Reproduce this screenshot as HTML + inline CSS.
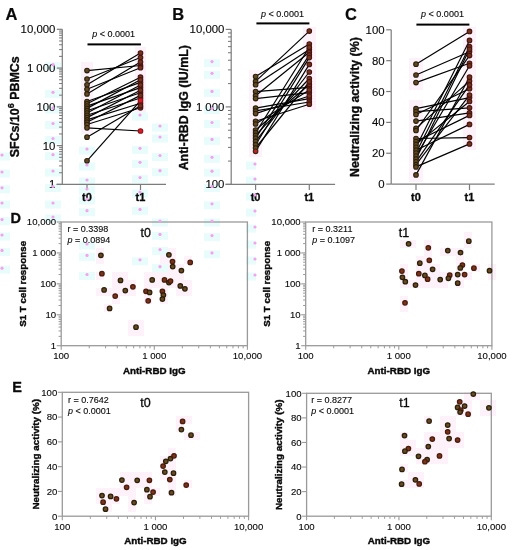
<!DOCTYPE html>
<html><head><meta charset="utf-8"><style>
html,body{margin:0;padding:0;background:#fff;width:512px;height:550px;overflow:hidden}
svg{display:block;font-family:"Liberation Sans",sans-serif;filter:blur(0.2px)}
</style></head><body>
<svg width="512" height="550" viewBox="0 0 512 550">
<rect x="0" y="0" width="512" height="550" fill="#fff"/>
<rect x="81.0" y="62.0" width="12.0" height="72.0" fill="#fdf2fa"/>
<rect x="135.0" y="47.0" width="11.0" height="66.0" fill="#fdf2fa"/>
<rect x="249.0" y="70.0" width="13.0" height="87.0" fill="#fdf2fa"/>
<rect x="303.0" y="27.0" width="13.0" height="83.0" fill="#fdf2fa"/>
<rect x="409.0" y="58.0" width="14.0" height="32.0" fill="#fdf2fa"/>
<rect x="409.0" y="100.0" width="14.0" height="82.0" fill="#fdf2fa"/>
<rect x="463.0" y="27.0" width="13.0" height="123.0" fill="#fdf2fa"/>
<rect x="104" y="288" width="8" height="8" fill="#fdf2fa"/>
<rect x="128" y="280" width="8" height="8" fill="#fdf2fa"/>
<rect x="120" y="288" width="8" height="8" fill="#fdf2fa"/>
<rect x="144" y="280" width="8" height="8" fill="#fdf2fa"/>
<rect x="160" y="256" width="8" height="8" fill="#fdf2fa"/>
<rect x="128" y="328" width="8" height="8" fill="#fdf2fa"/>
<rect x="168" y="248" width="8" height="8" fill="#fdf2fa"/>
<rect x="160" y="280" width="8" height="8" fill="#fdf2fa"/>
<rect x="168" y="272" width="8" height="8" fill="#fdf2fa"/>
<rect x="96" y="248" width="8" height="8" fill="#fdf2fa"/>
<rect x="176" y="280" width="8" height="8" fill="#fdf2fa"/>
<rect x="96" y="272" width="8" height="8" fill="#fdf2fa"/>
<rect x="112" y="296" width="8" height="8" fill="#fdf2fa"/>
<rect x="112" y="272" width="8" height="8" fill="#fdf2fa"/>
<rect x="104" y="304" width="8" height="8" fill="#fdf2fa"/>
<rect x="120" y="280" width="8" height="8" fill="#fdf2fa"/>
<rect x="128" y="320" width="8" height="8" fill="#fdf2fa"/>
<rect x="144" y="296" width="8" height="8" fill="#fdf2fa"/>
<rect x="144" y="272" width="8" height="8" fill="#fdf2fa"/>
<rect x="168" y="264" width="8" height="8" fill="#fdf2fa"/>
<rect x="160" y="248" width="8" height="8" fill="#fdf2fa"/>
<rect x="160" y="296" width="8" height="8" fill="#fdf2fa"/>
<rect x="160" y="272" width="8" height="8" fill="#fdf2fa"/>
<rect x="96" y="288" width="8" height="8" fill="#fdf2fa"/>
<rect x="176" y="272" width="8" height="8" fill="#fdf2fa"/>
<rect x="184" y="288" width="8" height="8" fill="#fdf2fa"/>
<rect x="112" y="288" width="8" height="8" fill="#fdf2fa"/>
<rect x="152" y="280" width="8" height="8" fill="#fdf2fa"/>
<rect x="136" y="328" width="8" height="8" fill="#fdf2fa"/>
<rect x="128" y="288" width="8" height="8" fill="#fdf2fa"/>
<rect x="120" y="272" width="8" height="8" fill="#fdf2fa"/>
<rect x="144" y="288" width="8" height="8" fill="#fdf2fa"/>
<rect x="168" y="280" width="8" height="8" fill="#fdf2fa"/>
<rect x="168" y="256" width="8" height="8" fill="#fdf2fa"/>
<rect x="184" y="280" width="8" height="8" fill="#fdf2fa"/>
<rect x="176" y="264" width="8" height="8" fill="#fdf2fa"/>
<rect x="160" y="288" width="8" height="8" fill="#fdf2fa"/>
<rect x="96" y="256" width="8" height="8" fill="#fdf2fa"/>
<rect x="184" y="256" width="8" height="8" fill="#fdf2fa"/>
<rect x="112" y="280" width="8" height="8" fill="#fdf2fa"/>
<rect x="176" y="288" width="8" height="8" fill="#fdf2fa"/>
<rect x="136" y="320" width="8" height="8" fill="#fdf2fa"/>
<rect x="152" y="272" width="8" height="8" fill="#fdf2fa"/>
<rect x="456" y="264" width="8" height="8" fill="#fdf2fa"/>
<rect x="424" y="256" width="8" height="8" fill="#fdf2fa"/>
<rect x="424" y="280" width="8" height="8" fill="#fdf2fa"/>
<rect x="432" y="272" width="8" height="8" fill="#fdf2fa"/>
<rect x="448" y="248" width="8" height="8" fill="#fdf2fa"/>
<rect x="440" y="280" width="8" height="8" fill="#fdf2fa"/>
<rect x="464" y="272" width="8" height="8" fill="#fdf2fa"/>
<rect x="448" y="272" width="8" height="8" fill="#fdf2fa"/>
<rect x="472" y="264" width="8" height="8" fill="#fdf2fa"/>
<rect x="400" y="240" width="8" height="8" fill="#fdf2fa"/>
<rect x="400" y="264" width="8" height="8" fill="#fdf2fa"/>
<rect x="488" y="264" width="8" height="8" fill="#fdf2fa"/>
<rect x="416" y="264" width="8" height="8" fill="#fdf2fa"/>
<rect x="456" y="256" width="8" height="8" fill="#fdf2fa"/>
<rect x="456" y="280" width="8" height="8" fill="#fdf2fa"/>
<rect x="424" y="272" width="8" height="8" fill="#fdf2fa"/>
<rect x="432" y="264" width="8" height="8" fill="#fdf2fa"/>
<rect x="424" y="248" width="8" height="8" fill="#fdf2fa"/>
<rect x="440" y="272" width="8" height="8" fill="#fdf2fa"/>
<rect x="440" y="248" width="8" height="8" fill="#fdf2fa"/>
<rect x="464" y="240" width="8" height="8" fill="#fdf2fa"/>
<rect x="400" y="280" width="8" height="8" fill="#fdf2fa"/>
<rect x="416" y="256" width="8" height="8" fill="#fdf2fa"/>
<rect x="408" y="240" width="8" height="8" fill="#fdf2fa"/>
<rect x="400" y="304" width="8" height="8" fill="#fdf2fa"/>
<rect x="416" y="280" width="8" height="8" fill="#fdf2fa"/>
<rect x="456" y="248" width="8" height="8" fill="#fdf2fa"/>
<rect x="456" y="272" width="8" height="8" fill="#fdf2fa"/>
<rect x="424" y="240" width="8" height="8" fill="#fdf2fa"/>
<rect x="432" y="280" width="8" height="8" fill="#fdf2fa"/>
<rect x="424" y="264" width="8" height="8" fill="#fdf2fa"/>
<rect x="464" y="232" width="8" height="8" fill="#fdf2fa"/>
<rect x="488" y="272" width="8" height="8" fill="#fdf2fa"/>
<rect x="400" y="296" width="8" height="8" fill="#fdf2fa"/>
<rect x="400" y="272" width="8" height="8" fill="#fdf2fa"/>
<rect x="408" y="280" width="8" height="8" fill="#fdf2fa"/>
<rect x="416" y="272" width="8" height="8" fill="#fdf2fa"/>
<rect x="96" y="496" width="8" height="8" fill="#fdf2fa"/>
<rect x="112" y="496" width="8" height="8" fill="#fdf2fa"/>
<rect x="152" y="488" width="8" height="8" fill="#fdf2fa"/>
<rect x="192" y="432" width="8" height="8" fill="#fdf2fa"/>
<rect x="104" y="504" width="8" height="8" fill="#fdf2fa"/>
<rect x="128" y="472" width="8" height="8" fill="#fdf2fa"/>
<rect x="128" y="496" width="8" height="8" fill="#fdf2fa"/>
<rect x="144" y="472" width="8" height="8" fill="#fdf2fa"/>
<rect x="120" y="480" width="8" height="8" fill="#fdf2fa"/>
<rect x="176" y="424" width="8" height="8" fill="#fdf2fa"/>
<rect x="144" y="496" width="8" height="8" fill="#fdf2fa"/>
<rect x="168" y="488" width="8" height="8" fill="#fdf2fa"/>
<rect x="160" y="472" width="8" height="8" fill="#fdf2fa"/>
<rect x="184" y="416" width="8" height="8" fill="#fdf2fa"/>
<rect x="168" y="464" width="8" height="8" fill="#fdf2fa"/>
<rect x="96" y="488" width="8" height="8" fill="#fdf2fa"/>
<rect x="112" y="488" width="8" height="8" fill="#fdf2fa"/>
<rect x="136" y="480" width="8" height="8" fill="#fdf2fa"/>
<rect x="104" y="496" width="8" height="8" fill="#fdf2fa"/>
<rect x="120" y="472" width="8" height="8" fill="#fdf2fa"/>
<rect x="128" y="488" width="8" height="8" fill="#fdf2fa"/>
<rect x="144" y="488" width="8" height="8" fill="#fdf2fa"/>
<rect x="160" y="464" width="8" height="8" fill="#fdf2fa"/>
<rect x="168" y="456" width="8" height="8" fill="#fdf2fa"/>
<rect x="184" y="432" width="8" height="8" fill="#fdf2fa"/>
<rect x="176" y="416" width="8" height="8" fill="#fdf2fa"/>
<rect x="168" y="480" width="8" height="8" fill="#fdf2fa"/>
<rect x="184" y="480" width="8" height="8" fill="#fdf2fa"/>
<rect x="136" y="472" width="8" height="8" fill="#fdf2fa"/>
<rect x="104" y="488" width="8" height="8" fill="#fdf2fa"/>
<rect x="120" y="488" width="8" height="8" fill="#fdf2fa"/>
<rect x="128" y="480" width="8" height="8" fill="#fdf2fa"/>
<rect x="128" y="504" width="8" height="8" fill="#fdf2fa"/>
<rect x="144" y="480" width="8" height="8" fill="#fdf2fa"/>
<rect x="168" y="472" width="8" height="8" fill="#fdf2fa"/>
<rect x="160" y="456" width="8" height="8" fill="#fdf2fa"/>
<rect x="168" y="448" width="8" height="8" fill="#fdf2fa"/>
<rect x="464" y="400" width="8" height="8" fill="#fdf2fa"/>
<rect x="440" y="456" width="8" height="8" fill="#fdf2fa"/>
<rect x="480" y="400" width="8" height="8" fill="#fdf2fa"/>
<rect x="400" y="440" width="8" height="8" fill="#fdf2fa"/>
<rect x="408" y="448" width="8" height="8" fill="#fdf2fa"/>
<rect x="400" y="464" width="8" height="8" fill="#fdf2fa"/>
<rect x="456" y="408" width="8" height="8" fill="#fdf2fa"/>
<rect x="408" y="472" width="8" height="8" fill="#fdf2fa"/>
<rect x="456" y="432" width="8" height="8" fill="#fdf2fa"/>
<rect x="424" y="448" width="8" height="8" fill="#fdf2fa"/>
<rect x="440" y="424" width="8" height="8" fill="#fdf2fa"/>
<rect x="432" y="440" width="8" height="8" fill="#fdf2fa"/>
<rect x="448" y="416" width="8" height="8" fill="#fdf2fa"/>
<rect x="464" y="392" width="8" height="8" fill="#fdf2fa"/>
<rect x="440" y="448" width="8" height="8" fill="#fdf2fa"/>
<rect x="448" y="440" width="8" height="8" fill="#fdf2fa"/>
<rect x="488" y="408" width="8" height="8" fill="#fdf2fa"/>
<rect x="400" y="432" width="8" height="8" fill="#fdf2fa"/>
<rect x="408" y="440" width="8" height="8" fill="#fdf2fa"/>
<rect x="400" y="480" width="8" height="8" fill="#fdf2fa"/>
<rect x="416" y="456" width="8" height="8" fill="#fdf2fa"/>
<rect x="424" y="456" width="8" height="8" fill="#fdf2fa"/>
<rect x="416" y="480" width="8" height="8" fill="#fdf2fa"/>
<rect x="456" y="400" width="8" height="8" fill="#fdf2fa"/>
<rect x="432" y="432" width="8" height="8" fill="#fdf2fa"/>
<rect x="424" y="416" width="8" height="8" fill="#fdf2fa"/>
<rect x="432" y="456" width="8" height="8" fill="#fdf2fa"/>
<rect x="448" y="432" width="8" height="8" fill="#fdf2fa"/>
<rect x="440" y="416" width="8" height="8" fill="#fdf2fa"/>
<rect x="464" y="408" width="8" height="8" fill="#fdf2fa"/>
<rect x="424" y="440" width="8" height="8" fill="#fdf2fa"/>
<rect x="440" y="440" width="8" height="8" fill="#fdf2fa"/>
<rect x="480" y="408" width="8" height="8" fill="#fdf2fa"/>
<rect x="488" y="400" width="8" height="8" fill="#fdf2fa"/>
<rect x="400" y="448" width="8" height="8" fill="#fdf2fa"/>
<rect x="416" y="448" width="8" height="8" fill="#fdf2fa"/>
<rect x="408" y="480" width="8" height="8" fill="#fdf2fa"/>
<rect x="416" y="472" width="8" height="8" fill="#fdf2fa"/>
<rect x="456" y="440" width="8" height="8" fill="#fdf2fa"/>
<rect x="432" y="448" width="8" height="8" fill="#fdf2fa"/>
<rect x="424" y="432" width="8" height="8" fill="#fdf2fa"/>
<rect x="472" y="392" width="8" height="8" fill="#fdf2fa"/>
<rect x="440" y="432" width="8" height="8" fill="#fdf2fa"/>
<rect x="448" y="424" width="8" height="8" fill="#fdf2fa"/>
<rect x="45" y="62.2" width="16" height="8" fill="#e8fcfc"/>
<rect x="45" y="89.8" width="16" height="8" fill="#e8fcfc"/>
<rect x="45" y="105.5" width="16" height="8" fill="#e8fcfc"/>
<rect x="45" y="121.0" width="16" height="8" fill="#e8fcfc"/>
<rect x="45" y="136.0" width="16" height="8" fill="#e8fcfc"/>
<rect x="45" y="152.2" width="16" height="8" fill="#e8fcfc"/>
<rect x="45" y="168.5" width="16" height="8" fill="#e8fcfc"/>
<rect x="45" y="184.0" width="16" height="8" fill="#e8fcfc"/>
<rect x="45" y="200.5" width="16" height="8" fill="#e8fcfc"/>
<rect x="45" y="214.5" width="16" height="8" fill="#e8fcfc"/>
<rect x="79" y="146.5" width="16" height="8" fill="#e8fcfc"/>
<rect x="79" y="162.5" width="16" height="8" fill="#e8fcfc"/>
<rect x="79" y="177.5" width="16" height="8" fill="#e8fcfc"/>
<rect x="79" y="186.5" width="16" height="8" fill="#e8fcfc"/>
<rect x="79" y="196.5" width="16" height="8" fill="#e8fcfc"/>
<rect x="79" y="208.2" width="16" height="8" fill="#e8fcfc"/>
<rect x="79" y="241.5" width="16" height="8" fill="#e8fcfc"/>
<rect x="79" y="252.9" width="16" height="8" fill="#e8fcfc"/>
<rect x="79" y="272.0" width="16" height="8" fill="#e8fcfc"/>
<rect x="-6" y="152.5" width="16" height="8" fill="#e8fcfc"/>
<rect x="-6" y="169.5" width="16" height="8" fill="#e8fcfc"/>
<rect x="-6" y="185.3" width="16" height="8" fill="#e8fcfc"/>
<rect x="-6" y="200.5" width="16" height="8" fill="#e8fcfc"/>
<rect x="-6" y="217.1" width="16" height="8" fill="#e8fcfc"/>
<rect x="-6" y="232.5" width="16" height="8" fill="#e8fcfc"/>
<rect x="-6" y="247.9" width="16" height="8" fill="#e8fcfc"/>
<rect x="-6" y="265.7" width="16" height="8" fill="#e8fcfc"/>
<rect x="132" y="112.5" width="16" height="8" fill="#e8fcfc"/>
<rect x="132" y="145.8" width="16" height="8" fill="#e8fcfc"/>
<rect x="132" y="159.8" width="16" height="8" fill="#e8fcfc"/>
<rect x="132" y="175.1" width="16" height="8" fill="#e8fcfc"/>
<rect x="132" y="189.5" width="16" height="8" fill="#e8fcfc"/>
<rect x="132" y="206.9" width="16" height="8" fill="#e8fcfc"/>
<rect x="132" y="257.3" width="16" height="8" fill="#e8fcfc"/>
<rect x="152" y="123.5" width="16" height="8" fill="#e8fcfc"/>
<rect x="152" y="134.5" width="16" height="8" fill="#e8fcfc"/>
<rect x="152" y="153.0" width="16" height="8" fill="#e8fcfc"/>
<rect x="152" y="168.2" width="16" height="8" fill="#e8fcfc"/>
<rect x="152" y="218.5" width="16" height="8" fill="#e8fcfc"/>
<rect x="152" y="231.9" width="16" height="8" fill="#e8fcfc"/>
<rect x="152" y="247.1" width="16" height="8" fill="#e8fcfc"/>
<rect x="152" y="264.2" width="16" height="8" fill="#e8fcfc"/>
<rect x="204" y="59.1" width="16" height="8" fill="#e8fcfc"/>
<rect x="204" y="70.8" width="16" height="8" fill="#e8fcfc"/>
<rect x="204" y="88.9" width="16" height="8" fill="#e8fcfc"/>
<rect x="204" y="106.0" width="16" height="8" fill="#e8fcfc"/>
<rect x="204" y="120.0" width="16" height="8" fill="#e8fcfc"/>
<rect x="204" y="136.9" width="16" height="8" fill="#e8fcfc"/>
<rect x="204" y="154.8" width="16" height="8" fill="#e8fcfc"/>
<rect x="204" y="168.7" width="16" height="8" fill="#e8fcfc"/>
<rect x="204" y="184.0" width="16" height="8" fill="#e8fcfc"/>
<rect x="204" y="201.3" width="16" height="8" fill="#e8fcfc"/>
<rect x="204" y="218.5" width="16" height="8" fill="#e8fcfc"/>
<rect x="204" y="233.1" width="16" height="8" fill="#e8fcfc"/>
<rect x="204" y="250.4" width="16" height="8" fill="#e8fcfc"/>
<rect x="246" y="161.5" width="10" height="8" fill="#e8fcfc"/>
<rect x="246" y="176.5" width="10" height="8" fill="#e8fcfc"/>
<rect x="246" y="192.5" width="10" height="8" fill="#e8fcfc"/>
<rect x="246" y="208.5" width="10" height="8" fill="#e8fcfc"/>
<rect x="246" y="224.5" width="10" height="8" fill="#e8fcfc"/>
<rect x="246" y="240.5" width="10" height="8" fill="#e8fcfc"/>
<rect x="246" y="256.5" width="10" height="8" fill="#e8fcfc"/>
<rect x="246" y="272.5" width="10" height="8" fill="#e8fcfc"/>
<line x1="62.30" y1="29.30" x2="62.30" y2="184.40" stroke="#7c7c7c" stroke-width="1.2"/>
<line x1="56.80" y1="184.40" x2="62.30" y2="184.40" stroke="#7c7c7c" stroke-width="1.2"/>
<line x1="59.10" y1="172.73" x2="62.30" y2="172.73" stroke="#7c7c7c" stroke-width="1.08"/>
<line x1="59.10" y1="165.90" x2="62.30" y2="165.90" stroke="#7c7c7c" stroke-width="1.08"/>
<line x1="59.10" y1="161.06" x2="62.30" y2="161.06" stroke="#7c7c7c" stroke-width="1.08"/>
<line x1="59.10" y1="157.30" x2="62.30" y2="157.30" stroke="#7c7c7c" stroke-width="1.08"/>
<line x1="59.10" y1="154.23" x2="62.30" y2="154.23" stroke="#7c7c7c" stroke-width="1.08"/>
<line x1="59.10" y1="151.63" x2="62.30" y2="151.63" stroke="#7c7c7c" stroke-width="1.08"/>
<line x1="59.10" y1="149.38" x2="62.30" y2="149.38" stroke="#7c7c7c" stroke-width="1.08"/>
<line x1="59.10" y1="147.40" x2="62.30" y2="147.40" stroke="#7c7c7c" stroke-width="1.08"/>
<line x1="56.80" y1="145.62" x2="62.30" y2="145.62" stroke="#7c7c7c" stroke-width="1.2"/>
<line x1="59.10" y1="133.95" x2="62.30" y2="133.95" stroke="#7c7c7c" stroke-width="1.08"/>
<line x1="59.10" y1="127.12" x2="62.30" y2="127.12" stroke="#7c7c7c" stroke-width="1.08"/>
<line x1="59.10" y1="122.28" x2="62.30" y2="122.28" stroke="#7c7c7c" stroke-width="1.08"/>
<line x1="59.10" y1="118.52" x2="62.30" y2="118.52" stroke="#7c7c7c" stroke-width="1.08"/>
<line x1="59.10" y1="115.45" x2="62.30" y2="115.45" stroke="#7c7c7c" stroke-width="1.08"/>
<line x1="59.10" y1="112.86" x2="62.30" y2="112.86" stroke="#7c7c7c" stroke-width="1.08"/>
<line x1="59.10" y1="110.61" x2="62.30" y2="110.61" stroke="#7c7c7c" stroke-width="1.08"/>
<line x1="59.10" y1="108.62" x2="62.30" y2="108.62" stroke="#7c7c7c" stroke-width="1.08"/>
<line x1="56.80" y1="106.85" x2="62.30" y2="106.85" stroke="#7c7c7c" stroke-width="1.2"/>
<line x1="59.10" y1="95.18" x2="62.30" y2="95.18" stroke="#7c7c7c" stroke-width="1.08"/>
<line x1="59.10" y1="88.35" x2="62.30" y2="88.35" stroke="#7c7c7c" stroke-width="1.08"/>
<line x1="59.10" y1="83.51" x2="62.30" y2="83.51" stroke="#7c7c7c" stroke-width="1.08"/>
<line x1="59.10" y1="79.75" x2="62.30" y2="79.75" stroke="#7c7c7c" stroke-width="1.08"/>
<line x1="59.10" y1="76.68" x2="62.30" y2="76.68" stroke="#7c7c7c" stroke-width="1.08"/>
<line x1="59.10" y1="74.08" x2="62.30" y2="74.08" stroke="#7c7c7c" stroke-width="1.08"/>
<line x1="59.10" y1="71.83" x2="62.30" y2="71.83" stroke="#7c7c7c" stroke-width="1.08"/>
<line x1="59.10" y1="69.85" x2="62.30" y2="69.85" stroke="#7c7c7c" stroke-width="1.08"/>
<line x1="56.80" y1="68.08" x2="62.30" y2="68.08" stroke="#7c7c7c" stroke-width="1.2"/>
<line x1="59.10" y1="56.40" x2="62.30" y2="56.40" stroke="#7c7c7c" stroke-width="1.08"/>
<line x1="59.10" y1="49.57" x2="62.30" y2="49.57" stroke="#7c7c7c" stroke-width="1.08"/>
<line x1="59.10" y1="44.73" x2="62.30" y2="44.73" stroke="#7c7c7c" stroke-width="1.08"/>
<line x1="59.10" y1="40.97" x2="62.30" y2="40.97" stroke="#7c7c7c" stroke-width="1.08"/>
<line x1="59.10" y1="37.90" x2="62.30" y2="37.90" stroke="#7c7c7c" stroke-width="1.08"/>
<line x1="59.10" y1="35.31" x2="62.30" y2="35.31" stroke="#7c7c7c" stroke-width="1.08"/>
<line x1="59.10" y1="33.06" x2="62.30" y2="33.06" stroke="#7c7c7c" stroke-width="1.08"/>
<line x1="59.10" y1="31.07" x2="62.30" y2="31.07" stroke="#7c7c7c" stroke-width="1.08"/>
<line x1="56.80" y1="29.30" x2="62.30" y2="29.30" stroke="#7c7c7c" stroke-width="1.2"/>
<line x1="56.50" y1="184.40" x2="166.00" y2="184.40" stroke="#7c7c7c" stroke-width="1.2"/>
<line x1="87.00" y1="184.40" x2="87.00" y2="190.00" stroke="#7c7c7c" stroke-width="1.2"/>
<line x1="140.50" y1="184.40" x2="140.50" y2="190.00" stroke="#7c7c7c" stroke-width="1.2"/>
<text x="55.40" y="188.40" font-size="11.4" text-anchor="end" font-weight="normal" fill="#0a0a0a" stroke="#0a0a0a" stroke-width="0.12" >1</text>
<text x="55.40" y="149.62" font-size="11.4" text-anchor="end" font-weight="normal" fill="#0a0a0a" stroke="#0a0a0a" stroke-width="0.12" >10</text>
<text x="55.40" y="110.85" font-size="11.4" text-anchor="end" font-weight="normal" fill="#0a0a0a" stroke="#0a0a0a" stroke-width="0.12" >100</text>
<text x="55.40" y="72.08" font-size="11.4" text-anchor="end" font-weight="normal" fill="#0a0a0a" stroke="#0a0a0a" stroke-width="0.12" >1 000</text>
<text x="55.40" y="33.30" font-size="11.4" text-anchor="end" font-weight="normal" fill="#0a0a0a" stroke="#0a0a0a" stroke-width="0.12" >10,000</text>
<text x="87.00" y="201.00" font-size="11" text-anchor="middle" font-weight="bold" fill="#0a0a0a" stroke="#0a0a0a" stroke-width="0.3" >t0</text>
<text x="140.50" y="201.00" font-size="11" text-anchor="middle" font-weight="bold" fill="#0a0a0a" stroke="#0a0a0a" stroke-width="0.3" >t1</text>
<text x="5.60" y="20.00" font-size="16.5" text-anchor="start" font-weight="bold" fill="#0a0a0a" stroke="#0a0a0a" stroke-width="0.2" >A</text>
<text x="113.70" y="37.10" font-size="9" text-anchor="middle" font-weight="normal" fill="#0a0a0a" stroke="#0a0a0a" stroke-width="0.12" ><tspan font-style="italic">p</tspan> &lt; 0.0001</text>
<rect x="87.50" y="43.40" width="53.40" height="2.00" fill="#000"/>
<text transform="translate(18.80,106.80) rotate(-90)" x="0" y="0" font-size="12.4" text-anchor="middle" font-weight="bold" fill="#0a0a0a" stroke="#0a0a0a" stroke-width="0.35">SFCs/10<tspan dy="-5" font-size="9">6</tspan><tspan dy="5"> PBMCs</tspan></text>
<line x1="87.00" y1="70.60" x2="140.50" y2="65.50" stroke="#000" stroke-width="1.2"/>
<line x1="87.00" y1="79.00" x2="140.50" y2="57.50" stroke="#000" stroke-width="1.2"/>
<line x1="87.00" y1="84.80" x2="140.50" y2="53.00" stroke="#000" stroke-width="1.2"/>
<line x1="87.00" y1="89.30" x2="140.50" y2="67.70" stroke="#000" stroke-width="1.2"/>
<line x1="87.00" y1="93.90" x2="140.50" y2="62.00" stroke="#000" stroke-width="1.2"/>
<line x1="87.00" y1="101.50" x2="140.50" y2="82.40" stroke="#000" stroke-width="1.2"/>
<line x1="87.00" y1="103.80" x2="140.50" y2="77.20" stroke="#000" stroke-width="1.2"/>
<line x1="87.00" y1="106.10" x2="140.50" y2="87.60" stroke="#000" stroke-width="1.2"/>
<line x1="87.00" y1="108.40" x2="140.50" y2="79.80" stroke="#000" stroke-width="1.2"/>
<line x1="87.00" y1="110.70" x2="140.50" y2="92.80" stroke="#000" stroke-width="1.2"/>
<line x1="87.00" y1="113.00" x2="140.50" y2="85.00" stroke="#000" stroke-width="1.2"/>
<line x1="87.00" y1="115.30" x2="140.50" y2="98.00" stroke="#000" stroke-width="1.2"/>
<line x1="87.00" y1="117.60" x2="140.50" y2="90.20" stroke="#000" stroke-width="1.2"/>
<line x1="87.00" y1="119.90" x2="140.50" y2="103.20" stroke="#000" stroke-width="1.2"/>
<line x1="87.00" y1="122.20" x2="140.50" y2="95.40" stroke="#000" stroke-width="1.2"/>
<line x1="87.00" y1="124.50" x2="140.50" y2="107.80" stroke="#000" stroke-width="1.2"/>
<line x1="87.00" y1="127.80" x2="140.50" y2="131.00" stroke="#000" stroke-width="1.2"/>
<line x1="87.00" y1="137.20" x2="140.50" y2="105.80" stroke="#000" stroke-width="1.2"/>
<line x1="87.00" y1="160.80" x2="140.50" y2="100.60" stroke="#000" stroke-width="1.2"/>
<circle cx="87.00" cy="70.60" r="2.3" fill="#654822" stroke="#2a200c" stroke-width="1.1"/>
<circle cx="87.00" cy="79.00" r="2.3" fill="#654822" stroke="#2a200c" stroke-width="1.1"/>
<circle cx="87.00" cy="84.80" r="2.3" fill="#654822" stroke="#2a200c" stroke-width="1.1"/>
<circle cx="87.00" cy="89.30" r="2.3" fill="#654822" stroke="#2a200c" stroke-width="1.1"/>
<circle cx="87.00" cy="93.90" r="2.3" fill="#654822" stroke="#2a200c" stroke-width="1.1"/>
<circle cx="87.00" cy="101.50" r="2.3" fill="#654822" stroke="#2a200c" stroke-width="1.1"/>
<circle cx="87.00" cy="103.80" r="2.3" fill="#654822" stroke="#2a200c" stroke-width="1.1"/>
<circle cx="87.00" cy="106.10" r="2.3" fill="#654822" stroke="#2a200c" stroke-width="1.1"/>
<circle cx="87.00" cy="108.40" r="2.3" fill="#654822" stroke="#2a200c" stroke-width="1.1"/>
<circle cx="87.00" cy="110.70" r="2.3" fill="#654822" stroke="#2a200c" stroke-width="1.1"/>
<circle cx="87.00" cy="113.00" r="2.3" fill="#654822" stroke="#2a200c" stroke-width="1.1"/>
<circle cx="87.00" cy="115.30" r="2.3" fill="#654822" stroke="#2a200c" stroke-width="1.1"/>
<circle cx="87.00" cy="117.60" r="2.3" fill="#654822" stroke="#2a200c" stroke-width="1.1"/>
<circle cx="87.00" cy="119.90" r="2.3" fill="#654822" stroke="#2a200c" stroke-width="1.1"/>
<circle cx="87.00" cy="122.20" r="2.3" fill="#654822" stroke="#2a200c" stroke-width="1.1"/>
<circle cx="87.00" cy="124.50" r="2.3" fill="#654822" stroke="#2a200c" stroke-width="1.1"/>
<circle cx="87.00" cy="127.80" r="2.3" fill="#654822" stroke="#2a200c" stroke-width="1.1"/>
<circle cx="87.00" cy="137.20" r="2.3" fill="#654822" stroke="#2a200c" stroke-width="1.1"/>
<circle cx="87.00" cy="160.80" r="2.3" fill="#654822" stroke="#2a200c" stroke-width="1.1"/>
<circle cx="140.50" cy="65.50" r="2.3" fill="#70341a" stroke="#481210" stroke-width="1.1"/>
<circle cx="140.50" cy="57.50" r="2.3" fill="#70341a" stroke="#481210" stroke-width="1.1"/>
<circle cx="140.50" cy="53.00" r="2.3" fill="#70341a" stroke="#481210" stroke-width="1.1"/>
<circle cx="140.50" cy="67.70" r="2.3" fill="#70341a" stroke="#481210" stroke-width="1.1"/>
<circle cx="140.50" cy="62.00" r="2.3" fill="#70341a" stroke="#481210" stroke-width="1.1"/>
<circle cx="140.50" cy="82.40" r="2.3" fill="#70341a" stroke="#481210" stroke-width="1.1"/>
<circle cx="140.50" cy="77.20" r="2.3" fill="#70341a" stroke="#481210" stroke-width="1.1"/>
<circle cx="140.50" cy="87.60" r="2.3" fill="#70341a" stroke="#481210" stroke-width="1.1"/>
<circle cx="140.50" cy="79.80" r="2.3" fill="#70341a" stroke="#481210" stroke-width="1.1"/>
<circle cx="140.50" cy="92.80" r="2.3" fill="#70341a" stroke="#481210" stroke-width="1.1"/>
<circle cx="140.50" cy="85.00" r="2.3" fill="#70341a" stroke="#481210" stroke-width="1.1"/>
<circle cx="140.50" cy="98.00" r="2.3" fill="#70341a" stroke="#481210" stroke-width="1.1"/>
<circle cx="140.50" cy="90.20" r="2.3" fill="#70341a" stroke="#481210" stroke-width="1.1"/>
<circle cx="140.50" cy="103.20" r="2.3" fill="#70341a" stroke="#481210" stroke-width="1.1"/>
<circle cx="140.50" cy="95.40" r="2.3" fill="#70341a" stroke="#481210" stroke-width="1.1"/>
<circle cx="140.50" cy="107.80" r="2.3" fill="#70341a" stroke="#481210" stroke-width="1.1"/>
<circle cx="140.50" cy="131.00" r="2.3" fill="#e0182a" stroke="#8a1418" stroke-width="1.1"/>
<circle cx="140.50" cy="105.80" r="2.3" fill="#70341a" stroke="#481210" stroke-width="1.1"/>
<circle cx="140.50" cy="100.60" r="2.3" fill="#e0182a" stroke="#8a1418" stroke-width="1.1"/>
<line x1="231.20" y1="29.40" x2="231.20" y2="184.40" stroke="#7c7c7c" stroke-width="1.2"/>
<line x1="225.70" y1="184.40" x2="231.20" y2="184.40" stroke="#7c7c7c" stroke-width="1.2"/>
<line x1="228.00" y1="161.07" x2="231.20" y2="161.07" stroke="#7c7c7c" stroke-width="1.08"/>
<line x1="228.00" y1="147.42" x2="231.20" y2="147.42" stroke="#7c7c7c" stroke-width="1.08"/>
<line x1="228.00" y1="137.74" x2="231.20" y2="137.74" stroke="#7c7c7c" stroke-width="1.08"/>
<line x1="228.00" y1="130.23" x2="231.20" y2="130.23" stroke="#7c7c7c" stroke-width="1.08"/>
<line x1="228.00" y1="124.09" x2="231.20" y2="124.09" stroke="#7c7c7c" stroke-width="1.08"/>
<line x1="228.00" y1="118.90" x2="231.20" y2="118.90" stroke="#7c7c7c" stroke-width="1.08"/>
<line x1="228.00" y1="114.41" x2="231.20" y2="114.41" stroke="#7c7c7c" stroke-width="1.08"/>
<line x1="228.00" y1="110.45" x2="231.20" y2="110.45" stroke="#7c7c7c" stroke-width="1.08"/>
<line x1="225.70" y1="106.90" x2="231.20" y2="106.90" stroke="#7c7c7c" stroke-width="1.2"/>
<line x1="228.00" y1="83.57" x2="231.20" y2="83.57" stroke="#7c7c7c" stroke-width="1.08"/>
<line x1="228.00" y1="69.92" x2="231.20" y2="69.92" stroke="#7c7c7c" stroke-width="1.08"/>
<line x1="228.00" y1="60.24" x2="231.20" y2="60.24" stroke="#7c7c7c" stroke-width="1.08"/>
<line x1="228.00" y1="52.73" x2="231.20" y2="52.73" stroke="#7c7c7c" stroke-width="1.08"/>
<line x1="228.00" y1="46.59" x2="231.20" y2="46.59" stroke="#7c7c7c" stroke-width="1.08"/>
<line x1="228.00" y1="41.40" x2="231.20" y2="41.40" stroke="#7c7c7c" stroke-width="1.08"/>
<line x1="228.00" y1="36.91" x2="231.20" y2="36.91" stroke="#7c7c7c" stroke-width="1.08"/>
<line x1="228.00" y1="32.95" x2="231.20" y2="32.95" stroke="#7c7c7c" stroke-width="1.08"/>
<line x1="225.70" y1="29.40" x2="231.20" y2="29.40" stroke="#7c7c7c" stroke-width="1.2"/>
<line x1="225.50" y1="184.40" x2="335.10" y2="184.40" stroke="#7c7c7c" stroke-width="1.2"/>
<line x1="255.60" y1="184.40" x2="255.60" y2="190.00" stroke="#7c7c7c" stroke-width="1.2"/>
<line x1="309.30" y1="184.40" x2="309.30" y2="190.00" stroke="#7c7c7c" stroke-width="1.2"/>
<text x="224.40" y="188.40" font-size="11.4" text-anchor="end" font-weight="normal" fill="#0a0a0a" stroke="#0a0a0a" stroke-width="0.12" >100</text>
<text x="224.40" y="110.90" font-size="11.4" text-anchor="end" font-weight="normal" fill="#0a0a0a" stroke="#0a0a0a" stroke-width="0.12" >1 000</text>
<text x="224.40" y="33.40" font-size="11.4" text-anchor="end" font-weight="normal" fill="#0a0a0a" stroke="#0a0a0a" stroke-width="0.12" >10,000</text>
<text x="255.60" y="201.00" font-size="11" text-anchor="middle" font-weight="bold" fill="#0a0a0a" stroke="#0a0a0a" stroke-width="0.3" >t0</text>
<text x="309.30" y="201.00" font-size="11" text-anchor="middle" font-weight="bold" fill="#0a0a0a" stroke="#0a0a0a" stroke-width="0.3" >t1</text>
<text x="172.30" y="20.00" font-size="16.5" text-anchor="start" font-weight="bold" fill="#0a0a0a" stroke="#0a0a0a" stroke-width="0.2" >B</text>
<text x="282.50" y="17.30" font-size="9" text-anchor="middle" font-weight="normal" fill="#0a0a0a" stroke="#0a0a0a" stroke-width="0.12" ><tspan font-style="italic">p</tspan> &lt; 0.0001</text>
<rect x="256.40" y="22.40" width="53.00" height="2.00" fill="#000"/>
<text transform="translate(187.60,107.70) rotate(-90)" x="0" y="0" font-size="12.4" text-anchor="middle" font-weight="bold" fill="#0a0a0a" stroke="#0a0a0a" stroke-width="0.35">Anti-RBD IgG (IU/mL)</text>
<line x1="255.60" y1="76.50" x2="309.30" y2="44.00" stroke="#000" stroke-width="1.2"/>
<line x1="255.60" y1="81.40" x2="309.30" y2="31.10" stroke="#000" stroke-width="1.2"/>
<line x1="255.60" y1="84.70" x2="309.30" y2="49.40" stroke="#000" stroke-width="1.2"/>
<line x1="255.60" y1="91.60" x2="309.30" y2="87.30" stroke="#000" stroke-width="1.2"/>
<line x1="255.60" y1="95.70" x2="309.30" y2="52.20" stroke="#000" stroke-width="1.2"/>
<line x1="255.60" y1="98.60" x2="309.30" y2="92.70" stroke="#000" stroke-width="1.2"/>
<line x1="255.60" y1="108.20" x2="309.30" y2="98.70" stroke="#000" stroke-width="1.2"/>
<line x1="255.60" y1="110.90" x2="309.30" y2="102.00" stroke="#000" stroke-width="1.2"/>
<line x1="255.60" y1="113.60" x2="309.30" y2="96.00" stroke="#000" stroke-width="1.2"/>
<line x1="255.60" y1="121.30" x2="309.30" y2="104.20" stroke="#000" stroke-width="1.2"/>
<line x1="255.60" y1="124.00" x2="309.30" y2="90.00" stroke="#000" stroke-width="1.2"/>
<line x1="255.60" y1="130.00" x2="309.30" y2="84.50" stroke="#000" stroke-width="1.2"/>
<line x1="255.60" y1="132.70" x2="309.30" y2="47.30" stroke="#000" stroke-width="1.2"/>
<line x1="255.60" y1="135.40" x2="309.30" y2="78.50" stroke="#000" stroke-width="1.2"/>
<line x1="255.60" y1="138.20" x2="309.30" y2="54.90" stroke="#000" stroke-width="1.2"/>
<line x1="255.60" y1="141.40" x2="309.30" y2="72.00" stroke="#000" stroke-width="1.2"/>
<line x1="255.60" y1="144.70" x2="309.30" y2="57.60" stroke="#000" stroke-width="1.2"/>
<line x1="255.60" y1="148.00" x2="309.30" y2="81.80" stroke="#000" stroke-width="1.2"/>
<line x1="255.60" y1="151.30" x2="309.30" y2="64.40" stroke="#000" stroke-width="1.2"/>
<circle cx="255.60" cy="76.50" r="2.3" fill="#654822" stroke="#2a200c" stroke-width="1.1"/>
<circle cx="255.60" cy="81.40" r="2.3" fill="#654822" stroke="#2a200c" stroke-width="1.1"/>
<circle cx="255.60" cy="84.70" r="2.3" fill="#654822" stroke="#2a200c" stroke-width="1.1"/>
<circle cx="255.60" cy="91.60" r="2.3" fill="#654822" stroke="#2a200c" stroke-width="1.1"/>
<circle cx="255.60" cy="95.70" r="2.3" fill="#654822" stroke="#2a200c" stroke-width="1.1"/>
<circle cx="255.60" cy="98.60" r="2.3" fill="#654822" stroke="#2a200c" stroke-width="1.1"/>
<circle cx="255.60" cy="108.20" r="2.3" fill="#654822" stroke="#2a200c" stroke-width="1.1"/>
<circle cx="255.60" cy="110.90" r="2.3" fill="#654822" stroke="#2a200c" stroke-width="1.1"/>
<circle cx="255.60" cy="113.60" r="2.3" fill="#654822" stroke="#2a200c" stroke-width="1.1"/>
<circle cx="255.60" cy="121.30" r="2.3" fill="#654822" stroke="#2a200c" stroke-width="1.1"/>
<circle cx="255.60" cy="124.00" r="2.3" fill="#654822" stroke="#2a200c" stroke-width="1.1"/>
<circle cx="255.60" cy="130.00" r="2.3" fill="#654822" stroke="#2a200c" stroke-width="1.1"/>
<circle cx="255.60" cy="132.70" r="2.3" fill="#654822" stroke="#2a200c" stroke-width="1.1"/>
<circle cx="255.60" cy="135.40" r="2.3" fill="#654822" stroke="#2a200c" stroke-width="1.1"/>
<circle cx="255.60" cy="138.20" r="2.3" fill="#654822" stroke="#2a200c" stroke-width="1.1"/>
<circle cx="255.60" cy="141.40" r="2.3" fill="#654822" stroke="#2a200c" stroke-width="1.1"/>
<circle cx="255.60" cy="144.70" r="2.3" fill="#654822" stroke="#2a200c" stroke-width="1.1"/>
<circle cx="255.60" cy="148.00" r="2.3" fill="#654822" stroke="#2a200c" stroke-width="1.1"/>
<circle cx="255.60" cy="151.30" r="2.3" fill="#c8202a" stroke="#3a2a10" stroke-width="1.1"/>
<circle cx="309.30" cy="44.00" r="2.3" fill="#70341a" stroke="#481210" stroke-width="1.1"/>
<circle cx="309.30" cy="31.10" r="2.3" fill="#70341a" stroke="#481210" stroke-width="1.1"/>
<circle cx="309.30" cy="49.40" r="2.3" fill="#70341a" stroke="#481210" stroke-width="1.1"/>
<circle cx="309.30" cy="87.30" r="2.3" fill="#70341a" stroke="#481210" stroke-width="1.1"/>
<circle cx="309.30" cy="52.20" r="2.3" fill="#70341a" stroke="#481210" stroke-width="1.1"/>
<circle cx="309.30" cy="92.70" r="2.3" fill="#70341a" stroke="#481210" stroke-width="1.1"/>
<circle cx="309.30" cy="98.70" r="2.3" fill="#70341a" stroke="#481210" stroke-width="1.1"/>
<circle cx="309.30" cy="102.00" r="2.3" fill="#70341a" stroke="#481210" stroke-width="1.1"/>
<circle cx="309.30" cy="96.00" r="2.3" fill="#70341a" stroke="#481210" stroke-width="1.1"/>
<circle cx="309.30" cy="104.20" r="2.3" fill="#70341a" stroke="#481210" stroke-width="1.1"/>
<circle cx="309.30" cy="90.00" r="2.3" fill="#70341a" stroke="#481210" stroke-width="1.1"/>
<circle cx="309.30" cy="84.50" r="2.3" fill="#70341a" stroke="#481210" stroke-width="1.1"/>
<circle cx="309.30" cy="47.30" r="2.3" fill="#70341a" stroke="#481210" stroke-width="1.1"/>
<circle cx="309.30" cy="78.50" r="2.3" fill="#70341a" stroke="#481210" stroke-width="1.1"/>
<circle cx="309.30" cy="54.90" r="2.3" fill="#70341a" stroke="#481210" stroke-width="1.1"/>
<circle cx="309.30" cy="72.00" r="2.3" fill="#70341a" stroke="#481210" stroke-width="1.1"/>
<circle cx="309.30" cy="57.60" r="2.3" fill="#70341a" stroke="#481210" stroke-width="1.1"/>
<circle cx="309.30" cy="81.80" r="2.3" fill="#70341a" stroke="#481210" stroke-width="1.1"/>
<circle cx="309.30" cy="64.40" r="2.3" fill="#70341a" stroke="#481210" stroke-width="1.1"/>
<line x1="391.20" y1="29.80" x2="391.20" y2="184.10" stroke="#7c7c7c" stroke-width="1.2"/>
<line x1="386.20" y1="184.10" x2="391.20" y2="184.10" stroke="#7c7c7c" stroke-width="1.2"/>
<text x="384.60" y="188.10" font-size="11.4" text-anchor="end" font-weight="normal" fill="#0a0a0a" stroke="#0a0a0a" stroke-width="0.12" >0</text>
<line x1="386.20" y1="153.24" x2="391.20" y2="153.24" stroke="#7c7c7c" stroke-width="1.2"/>
<text x="384.60" y="157.24" font-size="11.4" text-anchor="end" font-weight="normal" fill="#0a0a0a" stroke="#0a0a0a" stroke-width="0.12" >20</text>
<line x1="386.20" y1="122.38" x2="391.20" y2="122.38" stroke="#7c7c7c" stroke-width="1.2"/>
<text x="384.60" y="126.38" font-size="11.4" text-anchor="end" font-weight="normal" fill="#0a0a0a" stroke="#0a0a0a" stroke-width="0.12" >40</text>
<line x1="386.20" y1="91.52" x2="391.20" y2="91.52" stroke="#7c7c7c" stroke-width="1.2"/>
<text x="384.60" y="95.52" font-size="11.4" text-anchor="end" font-weight="normal" fill="#0a0a0a" stroke="#0a0a0a" stroke-width="0.12" >60</text>
<line x1="386.20" y1="60.66" x2="391.20" y2="60.66" stroke="#7c7c7c" stroke-width="1.2"/>
<text x="384.60" y="64.66" font-size="11.4" text-anchor="end" font-weight="normal" fill="#0a0a0a" stroke="#0a0a0a" stroke-width="0.12" >80</text>
<line x1="386.20" y1="29.80" x2="391.20" y2="29.80" stroke="#7c7c7c" stroke-width="1.2"/>
<text x="384.60" y="33.80" font-size="11.4" text-anchor="end" font-weight="normal" fill="#0a0a0a" stroke="#0a0a0a" stroke-width="0.12" >100</text>
<line x1="391.20" y1="184.10" x2="494.70" y2="184.10" stroke="#7c7c7c" stroke-width="1.2"/>
<line x1="416.00" y1="184.10" x2="416.00" y2="190.00" stroke="#7c7c7c" stroke-width="1.2"/>
<line x1="469.50" y1="184.10" x2="469.50" y2="190.00" stroke="#7c7c7c" stroke-width="1.2"/>
<text x="416.00" y="201.00" font-size="11" text-anchor="middle" font-weight="bold" fill="#0a0a0a" stroke="#0a0a0a" stroke-width="0.3" >t0</text>
<text x="469.50" y="201.00" font-size="11" text-anchor="middle" font-weight="bold" fill="#0a0a0a" stroke="#0a0a0a" stroke-width="0.3" >t1</text>
<text x="345.00" y="20.30" font-size="16.5" text-anchor="start" font-weight="bold" fill="#0a0a0a" stroke="#0a0a0a" stroke-width="0.2" >C</text>
<text x="442.50" y="17.30" font-size="9" text-anchor="middle" font-weight="normal" fill="#0a0a0a" stroke="#0a0a0a" stroke-width="0.12" ><tspan font-style="italic">p</tspan> &lt; 0.0001</text>
<rect x="416.40" y="23.60" width="53.00" height="2.00" fill="#000"/>
<text transform="translate(358.60,107.00) rotate(-90)" x="0" y="0" font-size="12.4" text-anchor="middle" font-weight="bold" fill="#0a0a0a" stroke="#0a0a0a" stroke-width="0.35">Neutralizing activity (%)</text>
<line x1="416.00" y1="64.20" x2="469.50" y2="31.40" stroke="#000" stroke-width="1.2"/>
<line x1="416.00" y1="75.00" x2="469.50" y2="51.80" stroke="#000" stroke-width="1.2"/>
<line x1="416.00" y1="82.60" x2="469.50" y2="63.30" stroke="#000" stroke-width="1.2"/>
<line x1="416.00" y1="108.70" x2="469.50" y2="97.60" stroke="#000" stroke-width="1.2"/>
<line x1="416.00" y1="111.60" x2="469.50" y2="107.80" stroke="#000" stroke-width="1.2"/>
<line x1="416.00" y1="114.50" x2="469.50" y2="88.70" stroke="#000" stroke-width="1.2"/>
<line x1="416.00" y1="121.10" x2="469.50" y2="112.90" stroke="#000" stroke-width="1.2"/>
<line x1="416.00" y1="128.40" x2="469.50" y2="81.10" stroke="#000" stroke-width="1.2"/>
<line x1="416.00" y1="130.50" x2="469.50" y2="55.60" stroke="#000" stroke-width="1.2"/>
<line x1="416.00" y1="138.50" x2="469.50" y2="137.60" stroke="#000" stroke-width="1.2"/>
<line x1="416.00" y1="141.50" x2="469.50" y2="115.40" stroke="#000" stroke-width="1.2"/>
<line x1="416.00" y1="144.40" x2="469.50" y2="101.50" stroke="#000" stroke-width="1.2"/>
<line x1="416.00" y1="147.30" x2="469.50" y2="40.40" stroke="#000" stroke-width="1.2"/>
<line x1="416.00" y1="150.20" x2="469.50" y2="124.40" stroke="#000" stroke-width="1.2"/>
<line x1="416.00" y1="153.10" x2="469.50" y2="46.70" stroke="#000" stroke-width="1.2"/>
<line x1="416.00" y1="156.00" x2="469.50" y2="65.80" stroke="#000" stroke-width="1.2"/>
<line x1="416.00" y1="158.90" x2="469.50" y2="49.30" stroke="#000" stroke-width="1.2"/>
<line x1="416.00" y1="161.80" x2="469.50" y2="84.90" stroke="#000" stroke-width="1.2"/>
<line x1="416.00" y1="164.70" x2="469.50" y2="95.10" stroke="#000" stroke-width="1.2"/>
<line x1="416.00" y1="166.90" x2="469.50" y2="143.90" stroke="#000" stroke-width="1.2"/>
<line x1="416.00" y1="174.90" x2="469.50" y2="77.20" stroke="#000" stroke-width="1.2"/>
<circle cx="416.00" cy="64.20" r="2.3" fill="#654822" stroke="#2a200c" stroke-width="1.1"/>
<circle cx="416.00" cy="75.00" r="2.3" fill="#654822" stroke="#2a200c" stroke-width="1.1"/>
<circle cx="416.00" cy="82.60" r="2.3" fill="#654822" stroke="#2a200c" stroke-width="1.1"/>
<circle cx="416.00" cy="108.70" r="2.3" fill="#654822" stroke="#2a200c" stroke-width="1.1"/>
<circle cx="416.00" cy="111.60" r="2.3" fill="#654822" stroke="#2a200c" stroke-width="1.1"/>
<circle cx="416.00" cy="114.50" r="2.3" fill="#654822" stroke="#2a200c" stroke-width="1.1"/>
<circle cx="416.00" cy="121.10" r="2.3" fill="#654822" stroke="#2a200c" stroke-width="1.1"/>
<circle cx="416.00" cy="128.40" r="2.3" fill="#654822" stroke="#2a200c" stroke-width="1.1"/>
<circle cx="416.00" cy="130.50" r="2.3" fill="#654822" stroke="#2a200c" stroke-width="1.1"/>
<circle cx="416.00" cy="138.50" r="2.3" fill="#654822" stroke="#2a200c" stroke-width="1.1"/>
<circle cx="416.00" cy="141.50" r="2.3" fill="#654822" stroke="#2a200c" stroke-width="1.1"/>
<circle cx="416.00" cy="144.40" r="2.3" fill="#654822" stroke="#2a200c" stroke-width="1.1"/>
<circle cx="416.00" cy="147.30" r="2.3" fill="#654822" stroke="#2a200c" stroke-width="1.1"/>
<circle cx="416.00" cy="150.20" r="2.3" fill="#654822" stroke="#2a200c" stroke-width="1.1"/>
<circle cx="416.00" cy="153.10" r="2.3" fill="#654822" stroke="#2a200c" stroke-width="1.1"/>
<circle cx="416.00" cy="156.00" r="2.3" fill="#654822" stroke="#2a200c" stroke-width="1.1"/>
<circle cx="416.00" cy="158.90" r="2.3" fill="#654822" stroke="#2a200c" stroke-width="1.1"/>
<circle cx="416.00" cy="161.80" r="2.3" fill="#654822" stroke="#2a200c" stroke-width="1.1"/>
<circle cx="416.00" cy="164.70" r="2.3" fill="#654822" stroke="#2a200c" stroke-width="1.1"/>
<circle cx="416.00" cy="166.90" r="2.3" fill="#654822" stroke="#2a200c" stroke-width="1.1"/>
<circle cx="416.00" cy="174.90" r="2.3" fill="#654822" stroke="#2a200c" stroke-width="1.1"/>
<circle cx="469.50" cy="31.40" r="2.3" fill="#70341a" stroke="#481210" stroke-width="1.1"/>
<circle cx="469.50" cy="51.80" r="2.3" fill="#70341a" stroke="#481210" stroke-width="1.1"/>
<circle cx="469.50" cy="63.30" r="2.3" fill="#70341a" stroke="#481210" stroke-width="1.1"/>
<circle cx="469.50" cy="97.60" r="2.3" fill="#70341a" stroke="#481210" stroke-width="1.1"/>
<circle cx="469.50" cy="107.80" r="2.3" fill="#70341a" stroke="#481210" stroke-width="1.1"/>
<circle cx="469.50" cy="88.70" r="2.3" fill="#70341a" stroke="#481210" stroke-width="1.1"/>
<circle cx="469.50" cy="112.90" r="2.3" fill="#70341a" stroke="#481210" stroke-width="1.1"/>
<circle cx="469.50" cy="81.10" r="2.3" fill="#70341a" stroke="#481210" stroke-width="1.1"/>
<circle cx="469.50" cy="55.60" r="2.3" fill="#70341a" stroke="#481210" stroke-width="1.1"/>
<circle cx="469.50" cy="137.60" r="2.3" fill="#70341a" stroke="#481210" stroke-width="1.1"/>
<circle cx="469.50" cy="115.40" r="2.3" fill="#70341a" stroke="#481210" stroke-width="1.1"/>
<circle cx="469.50" cy="101.50" r="2.3" fill="#70341a" stroke="#481210" stroke-width="1.1"/>
<circle cx="469.50" cy="40.40" r="2.3" fill="#70341a" stroke="#481210" stroke-width="1.1"/>
<circle cx="469.50" cy="124.40" r="2.3" fill="#70341a" stroke="#481210" stroke-width="1.1"/>
<circle cx="469.50" cy="46.70" r="2.3" fill="#70341a" stroke="#481210" stroke-width="1.1"/>
<circle cx="469.50" cy="65.80" r="2.3" fill="#70341a" stroke="#481210" stroke-width="1.1"/>
<circle cx="469.50" cy="49.30" r="2.3" fill="#70341a" stroke="#481210" stroke-width="1.1"/>
<circle cx="469.50" cy="84.90" r="2.3" fill="#70341a" stroke="#481210" stroke-width="1.1"/>
<circle cx="469.50" cy="95.10" r="2.3" fill="#70341a" stroke="#481210" stroke-width="1.1"/>
<circle cx="469.50" cy="143.90" r="2.3" fill="#70341a" stroke="#481210" stroke-width="1.1"/>
<circle cx="469.50" cy="77.20" r="2.3" fill="#70341a" stroke="#481210" stroke-width="1.1"/>
<rect x="61.20" y="222.00" width="186.20" height="123.70" fill="none" stroke="#9a9a9a" stroke-width="1.3"/>
<line x1="61.20" y1="345.70" x2="61.20" y2="349.70" stroke="#9a9a9a" stroke-width="1.1"/>
<line x1="89.23" y1="345.70" x2="89.23" y2="348.30" stroke="#9a9a9a" stroke-width="1.0"/>
<line x1="105.62" y1="345.70" x2="105.62" y2="348.30" stroke="#9a9a9a" stroke-width="1.0"/>
<line x1="117.25" y1="345.70" x2="117.25" y2="348.30" stroke="#9a9a9a" stroke-width="1.0"/>
<line x1="126.27" y1="345.70" x2="126.27" y2="348.30" stroke="#9a9a9a" stroke-width="1.0"/>
<line x1="133.65" y1="345.70" x2="133.65" y2="348.30" stroke="#9a9a9a" stroke-width="1.0"/>
<line x1="139.88" y1="345.70" x2="139.88" y2="348.30" stroke="#9a9a9a" stroke-width="1.0"/>
<line x1="145.28" y1="345.70" x2="145.28" y2="348.30" stroke="#9a9a9a" stroke-width="1.0"/>
<line x1="150.04" y1="345.70" x2="150.04" y2="348.30" stroke="#9a9a9a" stroke-width="1.0"/>
<line x1="154.30" y1="345.70" x2="154.30" y2="349.70" stroke="#9a9a9a" stroke-width="1.1"/>
<line x1="182.33" y1="345.70" x2="182.33" y2="348.30" stroke="#9a9a9a" stroke-width="1.0"/>
<line x1="198.72" y1="345.70" x2="198.72" y2="348.30" stroke="#9a9a9a" stroke-width="1.0"/>
<line x1="210.35" y1="345.70" x2="210.35" y2="348.30" stroke="#9a9a9a" stroke-width="1.0"/>
<line x1="219.37" y1="345.70" x2="219.37" y2="348.30" stroke="#9a9a9a" stroke-width="1.0"/>
<line x1="226.75" y1="345.70" x2="226.75" y2="348.30" stroke="#9a9a9a" stroke-width="1.0"/>
<line x1="232.98" y1="345.70" x2="232.98" y2="348.30" stroke="#9a9a9a" stroke-width="1.0"/>
<line x1="238.38" y1="345.70" x2="238.38" y2="348.30" stroke="#9a9a9a" stroke-width="1.0"/>
<line x1="243.14" y1="345.70" x2="243.14" y2="348.30" stroke="#9a9a9a" stroke-width="1.0"/>
<line x1="247.40" y1="345.70" x2="247.40" y2="349.70" stroke="#9a9a9a" stroke-width="1.1"/>
<text x="61.20" y="359.10" font-size="9.6" text-anchor="middle" font-weight="normal" fill="#0a0a0a" stroke="#0a0a0a" stroke-width="0.12" >100</text>
<text x="154.30" y="359.10" font-size="9.6" text-anchor="middle" font-weight="normal" fill="#0a0a0a" stroke="#0a0a0a" stroke-width="0.12" >1 000</text>
<text x="247.40" y="359.10" font-size="9.6" text-anchor="middle" font-weight="normal" fill="#0a0a0a" stroke="#0a0a0a" stroke-width="0.12" >10,000</text>
<text x="154.30" y="373.90" font-size="9.8" text-anchor="middle" font-weight="bold" fill="#0a0a0a" stroke="#0a0a0a" stroke-width="0.4" >Anti-RBD IgG</text>
<line x1="56.70" y1="345.70" x2="61.20" y2="345.70" stroke="#9a9a9a" stroke-width="1.1"/>
<line x1="58.60" y1="336.39" x2="61.20" y2="336.39" stroke="#9a9a9a" stroke-width="1.0"/>
<line x1="58.60" y1="330.95" x2="61.20" y2="330.95" stroke="#9a9a9a" stroke-width="1.0"/>
<line x1="58.60" y1="327.08" x2="61.20" y2="327.08" stroke="#9a9a9a" stroke-width="1.0"/>
<line x1="58.60" y1="324.08" x2="61.20" y2="324.08" stroke="#9a9a9a" stroke-width="1.0"/>
<line x1="58.60" y1="321.64" x2="61.20" y2="321.64" stroke="#9a9a9a" stroke-width="1.0"/>
<line x1="58.60" y1="319.57" x2="61.20" y2="319.57" stroke="#9a9a9a" stroke-width="1.0"/>
<line x1="58.60" y1="317.77" x2="61.20" y2="317.77" stroke="#9a9a9a" stroke-width="1.0"/>
<line x1="58.60" y1="316.19" x2="61.20" y2="316.19" stroke="#9a9a9a" stroke-width="1.0"/>
<line x1="56.70" y1="314.77" x2="61.20" y2="314.77" stroke="#9a9a9a" stroke-width="1.1"/>
<line x1="58.60" y1="305.47" x2="61.20" y2="305.47" stroke="#9a9a9a" stroke-width="1.0"/>
<line x1="58.60" y1="300.02" x2="61.20" y2="300.02" stroke="#9a9a9a" stroke-width="1.0"/>
<line x1="58.60" y1="296.16" x2="61.20" y2="296.16" stroke="#9a9a9a" stroke-width="1.0"/>
<line x1="58.60" y1="293.16" x2="61.20" y2="293.16" stroke="#9a9a9a" stroke-width="1.0"/>
<line x1="58.60" y1="290.71" x2="61.20" y2="290.71" stroke="#9a9a9a" stroke-width="1.0"/>
<line x1="58.60" y1="288.64" x2="61.20" y2="288.64" stroke="#9a9a9a" stroke-width="1.0"/>
<line x1="58.60" y1="286.85" x2="61.20" y2="286.85" stroke="#9a9a9a" stroke-width="1.0"/>
<line x1="58.60" y1="285.27" x2="61.20" y2="285.27" stroke="#9a9a9a" stroke-width="1.0"/>
<line x1="56.70" y1="283.85" x2="61.20" y2="283.85" stroke="#9a9a9a" stroke-width="1.1"/>
<line x1="58.60" y1="274.54" x2="61.20" y2="274.54" stroke="#9a9a9a" stroke-width="1.0"/>
<line x1="58.60" y1="269.10" x2="61.20" y2="269.10" stroke="#9a9a9a" stroke-width="1.0"/>
<line x1="58.60" y1="265.23" x2="61.20" y2="265.23" stroke="#9a9a9a" stroke-width="1.0"/>
<line x1="58.60" y1="262.23" x2="61.20" y2="262.23" stroke="#9a9a9a" stroke-width="1.0"/>
<line x1="58.60" y1="259.79" x2="61.20" y2="259.79" stroke="#9a9a9a" stroke-width="1.0"/>
<line x1="58.60" y1="257.72" x2="61.20" y2="257.72" stroke="#9a9a9a" stroke-width="1.0"/>
<line x1="58.60" y1="255.92" x2="61.20" y2="255.92" stroke="#9a9a9a" stroke-width="1.0"/>
<line x1="58.60" y1="254.34" x2="61.20" y2="254.34" stroke="#9a9a9a" stroke-width="1.0"/>
<line x1="56.70" y1="252.93" x2="61.20" y2="252.93" stroke="#9a9a9a" stroke-width="1.1"/>
<line x1="58.60" y1="243.62" x2="61.20" y2="243.62" stroke="#9a9a9a" stroke-width="1.0"/>
<line x1="58.60" y1="238.17" x2="61.20" y2="238.17" stroke="#9a9a9a" stroke-width="1.0"/>
<line x1="58.60" y1="234.31" x2="61.20" y2="234.31" stroke="#9a9a9a" stroke-width="1.0"/>
<line x1="58.60" y1="231.31" x2="61.20" y2="231.31" stroke="#9a9a9a" stroke-width="1.0"/>
<line x1="58.60" y1="228.86" x2="61.20" y2="228.86" stroke="#9a9a9a" stroke-width="1.0"/>
<line x1="58.60" y1="226.79" x2="61.20" y2="226.79" stroke="#9a9a9a" stroke-width="1.0"/>
<line x1="58.60" y1="225.00" x2="61.20" y2="225.00" stroke="#9a9a9a" stroke-width="1.0"/>
<line x1="58.60" y1="223.42" x2="61.20" y2="223.42" stroke="#9a9a9a" stroke-width="1.0"/>
<line x1="56.70" y1="222.00" x2="61.20" y2="222.00" stroke="#9a9a9a" stroke-width="1.1"/>
<text x="56.20" y="349.10" font-size="9.6" text-anchor="end" font-weight="normal" fill="#0a0a0a" stroke="#0a0a0a" stroke-width="0.12" >1</text>
<text x="56.20" y="318.17" font-size="9.6" text-anchor="end" font-weight="normal" fill="#0a0a0a" stroke="#0a0a0a" stroke-width="0.12" >10</text>
<text x="56.20" y="287.25" font-size="9.6" text-anchor="end" font-weight="normal" fill="#0a0a0a" stroke="#0a0a0a" stroke-width="0.12" >100</text>
<text x="56.20" y="256.32" font-size="9.6" text-anchor="end" font-weight="normal" fill="#0a0a0a" stroke="#0a0a0a" stroke-width="0.12" >1 000</text>
<text x="56.20" y="225.40" font-size="9.6" text-anchor="end" font-weight="normal" fill="#0a0a0a" stroke="#0a0a0a" stroke-width="0.12" >10,000</text>
<text x="10.60" y="223.10" font-size="14.5" text-anchor="start" font-weight="bold" fill="#0a0a0a" stroke="#0a0a0a" stroke-width="0.3" >D</text>
<text x="67.50" y="231.90" font-size="9" text-anchor="start" font-weight="normal" fill="#0a0a0a" stroke="#0a0a0a" stroke-width="0.12" >r = 0.3398</text>
<text x="67.50" y="242.50" font-size="9" text-anchor="start" font-weight="normal" fill="#0a0a0a" stroke="#0a0a0a" stroke-width="0.12" ><tspan font-style="italic">p</tspan> = 0.0894</text>
<text x="140.60" y="237.40" font-size="12.5" text-anchor="start" font-weight="normal" fill="#0a0a0a" stroke="#0a0a0a" stroke-width="0.3" >t0</text>
<text transform="translate(25.70,283.85) rotate(-90)" x="0" y="0" font-size="9.8" text-anchor="middle" font-weight="bold" fill="#0a0a0a" stroke="#0a0a0a" stroke-width="0.4">S1 T cell response</text>
<circle cx="100.90" cy="255.30" r="2.25" fill="#6a4820" stroke="#2a200a" stroke-width="1.25"/>
<circle cx="101.90" cy="273.70" r="2.25" fill="#7a3418" stroke="#4a1a0c" stroke-width="1.25"/>
<circle cx="120.50" cy="280.40" r="2.25" fill="#6a4820" stroke="#2a200a" stroke-width="1.25"/>
<circle cx="104.10" cy="289.90" r="2.25" fill="#6a4820" stroke="#2a200a" stroke-width="1.25"/>
<circle cx="132.90" cy="286.80" r="2.25" fill="#7a3418" stroke="#4a1a0c" stroke-width="1.25"/>
<circle cx="125.30" cy="290.60" r="2.25" fill="#6a4820" stroke="#2a200a" stroke-width="1.25"/>
<circle cx="115.20" cy="296.00" r="2.25" fill="#7a3418" stroke="#4a1a0c" stroke-width="1.25"/>
<circle cx="109.60" cy="308.40" r="2.25" fill="#6a4820" stroke="#2a200a" stroke-width="1.25"/>
<circle cx="168.90" cy="254.80" r="2.25" fill="#6a4820" stroke="#2a200a" stroke-width="1.25"/>
<circle cx="172.50" cy="261.60" r="2.25" fill="#7a3418" stroke="#4a1a0c" stroke-width="1.25"/>
<circle cx="172.70" cy="266.60" r="2.25" fill="#6a4820" stroke="#2a200a" stroke-width="1.25"/>
<circle cx="190.20" cy="262.40" r="2.25" fill="#7a3418" stroke="#4a1a0c" stroke-width="1.25"/>
<circle cx="181.40" cy="270.60" r="2.25" fill="#6a4820" stroke="#2a200a" stroke-width="1.25"/>
<circle cx="152.20" cy="279.90" r="2.25" fill="#6a4820" stroke="#2a200a" stroke-width="1.25"/>
<circle cx="164.50" cy="279.90" r="2.25" fill="#7a3418" stroke="#4a1a0c" stroke-width="1.25"/>
<circle cx="168.90" cy="282.60" r="2.25" fill="#6a4820" stroke="#2a200a" stroke-width="1.25"/>
<circle cx="170.50" cy="281.00" r="2.25" fill="#7a3418" stroke="#4a1a0c" stroke-width="1.25"/>
<circle cx="180.30" cy="285.90" r="2.25" fill="#6a4820" stroke="#2a200a" stroke-width="1.25"/>
<circle cx="184.90" cy="288.80" r="2.25" fill="#6a4820" stroke="#2a200a" stroke-width="1.25"/>
<circle cx="146.00" cy="291.30" r="2.25" fill="#7a3418" stroke="#4a1a0c" stroke-width="1.25"/>
<circle cx="149.60" cy="292.40" r="2.25" fill="#6a4820" stroke="#2a200a" stroke-width="1.25"/>
<circle cx="162.40" cy="291.30" r="2.25" fill="#7a3418" stroke="#4a1a0c" stroke-width="1.25"/>
<circle cx="163.40" cy="295.00" r="2.25" fill="#6a4820" stroke="#2a200a" stroke-width="1.25"/>
<circle cx="162.40" cy="299.00" r="2.25" fill="#6a4820" stroke="#2a200a" stroke-width="1.25"/>
<circle cx="148.20" cy="300.80" r="2.25" fill="#7a3418" stroke="#4a1a0c" stroke-width="1.25"/>
<circle cx="136.00" cy="327.20" r="2.25" fill="#6a4820" stroke="#2a200a" stroke-width="1.25"/>
<rect x="305.70" y="222.00" width="186.20" height="123.70" fill="none" stroke="#9a9a9a" stroke-width="1.3"/>
<line x1="305.70" y1="345.70" x2="305.70" y2="349.70" stroke="#9a9a9a" stroke-width="1.1"/>
<line x1="333.73" y1="345.70" x2="333.73" y2="348.30" stroke="#9a9a9a" stroke-width="1.0"/>
<line x1="350.12" y1="345.70" x2="350.12" y2="348.30" stroke="#9a9a9a" stroke-width="1.0"/>
<line x1="361.75" y1="345.70" x2="361.75" y2="348.30" stroke="#9a9a9a" stroke-width="1.0"/>
<line x1="370.77" y1="345.70" x2="370.77" y2="348.30" stroke="#9a9a9a" stroke-width="1.0"/>
<line x1="378.15" y1="345.70" x2="378.15" y2="348.30" stroke="#9a9a9a" stroke-width="1.0"/>
<line x1="384.38" y1="345.70" x2="384.38" y2="348.30" stroke="#9a9a9a" stroke-width="1.0"/>
<line x1="389.78" y1="345.70" x2="389.78" y2="348.30" stroke="#9a9a9a" stroke-width="1.0"/>
<line x1="394.54" y1="345.70" x2="394.54" y2="348.30" stroke="#9a9a9a" stroke-width="1.0"/>
<line x1="398.80" y1="345.70" x2="398.80" y2="349.70" stroke="#9a9a9a" stroke-width="1.1"/>
<line x1="426.83" y1="345.70" x2="426.83" y2="348.30" stroke="#9a9a9a" stroke-width="1.0"/>
<line x1="443.22" y1="345.70" x2="443.22" y2="348.30" stroke="#9a9a9a" stroke-width="1.0"/>
<line x1="454.85" y1="345.70" x2="454.85" y2="348.30" stroke="#9a9a9a" stroke-width="1.0"/>
<line x1="463.87" y1="345.70" x2="463.87" y2="348.30" stroke="#9a9a9a" stroke-width="1.0"/>
<line x1="471.25" y1="345.70" x2="471.25" y2="348.30" stroke="#9a9a9a" stroke-width="1.0"/>
<line x1="477.48" y1="345.70" x2="477.48" y2="348.30" stroke="#9a9a9a" stroke-width="1.0"/>
<line x1="482.88" y1="345.70" x2="482.88" y2="348.30" stroke="#9a9a9a" stroke-width="1.0"/>
<line x1="487.64" y1="345.70" x2="487.64" y2="348.30" stroke="#9a9a9a" stroke-width="1.0"/>
<line x1="491.90" y1="345.70" x2="491.90" y2="349.70" stroke="#9a9a9a" stroke-width="1.1"/>
<text x="305.70" y="359.10" font-size="9.6" text-anchor="middle" font-weight="normal" fill="#0a0a0a" stroke="#0a0a0a" stroke-width="0.12" >100</text>
<text x="398.80" y="359.10" font-size="9.6" text-anchor="middle" font-weight="normal" fill="#0a0a0a" stroke="#0a0a0a" stroke-width="0.12" >1 000</text>
<text x="491.90" y="359.10" font-size="9.6" text-anchor="middle" font-weight="normal" fill="#0a0a0a" stroke="#0a0a0a" stroke-width="0.12" >10,000</text>
<text x="398.80" y="373.90" font-size="9.8" text-anchor="middle" font-weight="bold" fill="#0a0a0a" stroke="#0a0a0a" stroke-width="0.4" >Anti-RBD IgG</text>
<line x1="301.20" y1="345.70" x2="305.70" y2="345.70" stroke="#9a9a9a" stroke-width="1.1"/>
<line x1="303.10" y1="336.39" x2="305.70" y2="336.39" stroke="#9a9a9a" stroke-width="1.0"/>
<line x1="303.10" y1="330.95" x2="305.70" y2="330.95" stroke="#9a9a9a" stroke-width="1.0"/>
<line x1="303.10" y1="327.08" x2="305.70" y2="327.08" stroke="#9a9a9a" stroke-width="1.0"/>
<line x1="303.10" y1="324.08" x2="305.70" y2="324.08" stroke="#9a9a9a" stroke-width="1.0"/>
<line x1="303.10" y1="321.64" x2="305.70" y2="321.64" stroke="#9a9a9a" stroke-width="1.0"/>
<line x1="303.10" y1="319.57" x2="305.70" y2="319.57" stroke="#9a9a9a" stroke-width="1.0"/>
<line x1="303.10" y1="317.77" x2="305.70" y2="317.77" stroke="#9a9a9a" stroke-width="1.0"/>
<line x1="303.10" y1="316.19" x2="305.70" y2="316.19" stroke="#9a9a9a" stroke-width="1.0"/>
<line x1="301.20" y1="314.77" x2="305.70" y2="314.77" stroke="#9a9a9a" stroke-width="1.1"/>
<line x1="303.10" y1="305.47" x2="305.70" y2="305.47" stroke="#9a9a9a" stroke-width="1.0"/>
<line x1="303.10" y1="300.02" x2="305.70" y2="300.02" stroke="#9a9a9a" stroke-width="1.0"/>
<line x1="303.10" y1="296.16" x2="305.70" y2="296.16" stroke="#9a9a9a" stroke-width="1.0"/>
<line x1="303.10" y1="293.16" x2="305.70" y2="293.16" stroke="#9a9a9a" stroke-width="1.0"/>
<line x1="303.10" y1="290.71" x2="305.70" y2="290.71" stroke="#9a9a9a" stroke-width="1.0"/>
<line x1="303.10" y1="288.64" x2="305.70" y2="288.64" stroke="#9a9a9a" stroke-width="1.0"/>
<line x1="303.10" y1="286.85" x2="305.70" y2="286.85" stroke="#9a9a9a" stroke-width="1.0"/>
<line x1="303.10" y1="285.27" x2="305.70" y2="285.27" stroke="#9a9a9a" stroke-width="1.0"/>
<line x1="301.20" y1="283.85" x2="305.70" y2="283.85" stroke="#9a9a9a" stroke-width="1.1"/>
<line x1="303.10" y1="274.54" x2="305.70" y2="274.54" stroke="#9a9a9a" stroke-width="1.0"/>
<line x1="303.10" y1="269.10" x2="305.70" y2="269.10" stroke="#9a9a9a" stroke-width="1.0"/>
<line x1="303.10" y1="265.23" x2="305.70" y2="265.23" stroke="#9a9a9a" stroke-width="1.0"/>
<line x1="303.10" y1="262.23" x2="305.70" y2="262.23" stroke="#9a9a9a" stroke-width="1.0"/>
<line x1="303.10" y1="259.79" x2="305.70" y2="259.79" stroke="#9a9a9a" stroke-width="1.0"/>
<line x1="303.10" y1="257.72" x2="305.70" y2="257.72" stroke="#9a9a9a" stroke-width="1.0"/>
<line x1="303.10" y1="255.92" x2="305.70" y2="255.92" stroke="#9a9a9a" stroke-width="1.0"/>
<line x1="303.10" y1="254.34" x2="305.70" y2="254.34" stroke="#9a9a9a" stroke-width="1.0"/>
<line x1="301.20" y1="252.93" x2="305.70" y2="252.93" stroke="#9a9a9a" stroke-width="1.1"/>
<line x1="303.10" y1="243.62" x2="305.70" y2="243.62" stroke="#9a9a9a" stroke-width="1.0"/>
<line x1="303.10" y1="238.17" x2="305.70" y2="238.17" stroke="#9a9a9a" stroke-width="1.0"/>
<line x1="303.10" y1="234.31" x2="305.70" y2="234.31" stroke="#9a9a9a" stroke-width="1.0"/>
<line x1="303.10" y1="231.31" x2="305.70" y2="231.31" stroke="#9a9a9a" stroke-width="1.0"/>
<line x1="303.10" y1="228.86" x2="305.70" y2="228.86" stroke="#9a9a9a" stroke-width="1.0"/>
<line x1="303.10" y1="226.79" x2="305.70" y2="226.79" stroke="#9a9a9a" stroke-width="1.0"/>
<line x1="303.10" y1="225.00" x2="305.70" y2="225.00" stroke="#9a9a9a" stroke-width="1.0"/>
<line x1="303.10" y1="223.42" x2="305.70" y2="223.42" stroke="#9a9a9a" stroke-width="1.0"/>
<line x1="301.20" y1="222.00" x2="305.70" y2="222.00" stroke="#9a9a9a" stroke-width="1.1"/>
<text x="300.70" y="349.10" font-size="9.6" text-anchor="end" font-weight="normal" fill="#0a0a0a" stroke="#0a0a0a" stroke-width="0.12" >1</text>
<text x="300.70" y="318.17" font-size="9.6" text-anchor="end" font-weight="normal" fill="#0a0a0a" stroke="#0a0a0a" stroke-width="0.12" >10</text>
<text x="300.70" y="287.25" font-size="9.6" text-anchor="end" font-weight="normal" fill="#0a0a0a" stroke="#0a0a0a" stroke-width="0.12" >100</text>
<text x="300.70" y="256.32" font-size="9.6" text-anchor="end" font-weight="normal" fill="#0a0a0a" stroke="#0a0a0a" stroke-width="0.12" >1 000</text>
<text x="300.70" y="225.40" font-size="9.6" text-anchor="end" font-weight="normal" fill="#0a0a0a" stroke="#0a0a0a" stroke-width="0.12" >10,000</text>
<text x="0.00" y="0.00" font-size="14.5" text-anchor="start" font-weight="bold" fill="#0a0a0a" stroke="#0a0a0a" stroke-width="0.3" ></text>
<text x="312.30" y="231.90" font-size="9" text-anchor="start" font-weight="normal" fill="#0a0a0a" stroke="#0a0a0a" stroke-width="0.12" >r = 0.3211</text>
<text x="312.30" y="242.50" font-size="9" text-anchor="start" font-weight="normal" fill="#0a0a0a" stroke="#0a0a0a" stroke-width="0.12" ><tspan font-style="italic">p</tspan> = 0.1097</text>
<text x="398.80" y="236.80" font-size="12.5" text-anchor="start" font-weight="normal" fill="#0a0a0a" stroke="#0a0a0a" stroke-width="0.3" >t1</text>
<text transform="translate(270.30,283.85) rotate(-90)" x="0" y="0" font-size="9.8" text-anchor="middle" font-weight="bold" fill="#0a0a0a" stroke="#0a0a0a" stroke-width="0.4">S1 T cell response</text>
<circle cx="408.60" cy="243.80" r="2.25" fill="#6a4820" stroke="#2a200a" stroke-width="1.25"/>
<circle cx="428.30" cy="247.80" r="2.25" fill="#7a3418" stroke="#4a1a0c" stroke-width="1.25"/>
<circle cx="447.80" cy="250.60" r="2.25" fill="#6a4820" stroke="#2a200a" stroke-width="1.25"/>
<circle cx="419.80" cy="263.20" r="2.25" fill="#6a4820" stroke="#2a200a" stroke-width="1.25"/>
<circle cx="429.30" cy="260.30" r="2.25" fill="#7a3418" stroke="#4a1a0c" stroke-width="1.25"/>
<circle cx="432.60" cy="269.30" r="2.25" fill="#6a4820" stroke="#2a200a" stroke-width="1.25"/>
<circle cx="401.90" cy="271.00" r="2.25" fill="#7a3418" stroke="#4a1a0c" stroke-width="1.25"/>
<circle cx="402.40" cy="277.30" r="2.25" fill="#6a4820" stroke="#2a200a" stroke-width="1.25"/>
<circle cx="405.30" cy="281.70" r="2.25" fill="#6a4820" stroke="#2a200a" stroke-width="1.25"/>
<circle cx="418.80" cy="273.70" r="2.25" fill="#7a3418" stroke="#4a1a0c" stroke-width="1.25"/>
<circle cx="424.90" cy="275.40" r="2.25" fill="#6a4820" stroke="#2a200a" stroke-width="1.25"/>
<circle cx="427.60" cy="279.20" r="2.25" fill="#7a3418" stroke="#4a1a0c" stroke-width="1.25"/>
<circle cx="415.50" cy="285.00" r="2.25" fill="#6a4820" stroke="#2a200a" stroke-width="1.25"/>
<circle cx="440.20" cy="279.50" r="2.25" fill="#6a4820" stroke="#2a200a" stroke-width="1.25"/>
<circle cx="449.70" cy="275.20" r="2.25" fill="#7a3418" stroke="#4a1a0c" stroke-width="1.25"/>
<circle cx="448.40" cy="278.30" r="2.25" fill="#6a4820" stroke="#2a200a" stroke-width="1.25"/>
<circle cx="405.00" cy="302.80" r="2.25" fill="#7a3418" stroke="#4a1a0c" stroke-width="1.25"/>
<circle cx="468.80" cy="241.20" r="2.25" fill="#6a4820" stroke="#2a200a" stroke-width="1.25"/>
<circle cx="460.50" cy="252.60" r="2.25" fill="#6a4820" stroke="#2a200a" stroke-width="1.25"/>
<circle cx="462.40" cy="265.00" r="2.25" fill="#7a3418" stroke="#4a1a0c" stroke-width="1.25"/>
<circle cx="460.30" cy="267.90" r="2.25" fill="#6a4820" stroke="#2a200a" stroke-width="1.25"/>
<circle cx="473.90" cy="268.20" r="2.25" fill="#7a3418" stroke="#4a1a0c" stroke-width="1.25"/>
<circle cx="489.50" cy="270.70" r="2.25" fill="#6a4820" stroke="#2a200a" stroke-width="1.25"/>
<circle cx="457.70" cy="274.50" r="2.25" fill="#6a4820" stroke="#2a200a" stroke-width="1.25"/>
<circle cx="464.60" cy="274.50" r="2.25" fill="#7a3418" stroke="#4a1a0c" stroke-width="1.25"/>
<circle cx="457.70" cy="283.20" r="2.25" fill="#6a4820" stroke="#2a200a" stroke-width="1.25"/>
<rect x="62.30" y="392.30" width="186.30" height="123.90" fill="none" stroke="#9a9a9a" stroke-width="1.3"/>
<line x1="62.30" y1="516.20" x2="62.30" y2="520.20" stroke="#9a9a9a" stroke-width="1.1"/>
<line x1="90.34" y1="516.20" x2="90.34" y2="518.80" stroke="#9a9a9a" stroke-width="1.0"/>
<line x1="106.74" y1="516.20" x2="106.74" y2="518.80" stroke="#9a9a9a" stroke-width="1.0"/>
<line x1="118.38" y1="516.20" x2="118.38" y2="518.80" stroke="#9a9a9a" stroke-width="1.0"/>
<line x1="127.41" y1="516.20" x2="127.41" y2="518.80" stroke="#9a9a9a" stroke-width="1.0"/>
<line x1="134.78" y1="516.20" x2="134.78" y2="518.80" stroke="#9a9a9a" stroke-width="1.0"/>
<line x1="141.02" y1="516.20" x2="141.02" y2="518.80" stroke="#9a9a9a" stroke-width="1.0"/>
<line x1="146.42" y1="516.20" x2="146.42" y2="518.80" stroke="#9a9a9a" stroke-width="1.0"/>
<line x1="151.19" y1="516.20" x2="151.19" y2="518.80" stroke="#9a9a9a" stroke-width="1.0"/>
<line x1="155.45" y1="516.20" x2="155.45" y2="520.20" stroke="#9a9a9a" stroke-width="1.1"/>
<line x1="183.49" y1="516.20" x2="183.49" y2="518.80" stroke="#9a9a9a" stroke-width="1.0"/>
<line x1="199.89" y1="516.20" x2="199.89" y2="518.80" stroke="#9a9a9a" stroke-width="1.0"/>
<line x1="211.53" y1="516.20" x2="211.53" y2="518.80" stroke="#9a9a9a" stroke-width="1.0"/>
<line x1="220.56" y1="516.20" x2="220.56" y2="518.80" stroke="#9a9a9a" stroke-width="1.0"/>
<line x1="227.93" y1="516.20" x2="227.93" y2="518.80" stroke="#9a9a9a" stroke-width="1.0"/>
<line x1="234.17" y1="516.20" x2="234.17" y2="518.80" stroke="#9a9a9a" stroke-width="1.0"/>
<line x1="239.57" y1="516.20" x2="239.57" y2="518.80" stroke="#9a9a9a" stroke-width="1.0"/>
<line x1="244.34" y1="516.20" x2="244.34" y2="518.80" stroke="#9a9a9a" stroke-width="1.0"/>
<line x1="248.60" y1="516.20" x2="248.60" y2="520.20" stroke="#9a9a9a" stroke-width="1.1"/>
<text x="62.30" y="529.60" font-size="9.6" text-anchor="middle" font-weight="normal" fill="#0a0a0a" stroke="#0a0a0a" stroke-width="0.12" >100</text>
<text x="155.45" y="529.60" font-size="9.6" text-anchor="middle" font-weight="normal" fill="#0a0a0a" stroke="#0a0a0a" stroke-width="0.12" >1 000</text>
<text x="248.60" y="529.60" font-size="9.6" text-anchor="middle" font-weight="normal" fill="#0a0a0a" stroke="#0a0a0a" stroke-width="0.12" >10,000</text>
<text x="155.45" y="544.40" font-size="9.8" text-anchor="middle" font-weight="bold" fill="#0a0a0a" stroke="#0a0a0a" stroke-width="0.4" >Anti-RBD IgG</text>
<line x1="57.80" y1="516.20" x2="62.30" y2="516.20" stroke="#9a9a9a" stroke-width="1.1"/>
<text x="57.30" y="519.60" font-size="9.6" text-anchor="end" font-weight="normal" fill="#0a0a0a" stroke="#0a0a0a" stroke-width="0.12" >0</text>
<line x1="57.80" y1="491.42" x2="62.30" y2="491.42" stroke="#9a9a9a" stroke-width="1.1"/>
<text x="57.30" y="494.82" font-size="9.6" text-anchor="end" font-weight="normal" fill="#0a0a0a" stroke="#0a0a0a" stroke-width="0.12" >20</text>
<line x1="57.80" y1="466.64" x2="62.30" y2="466.64" stroke="#9a9a9a" stroke-width="1.1"/>
<text x="57.30" y="470.04" font-size="9.6" text-anchor="end" font-weight="normal" fill="#0a0a0a" stroke="#0a0a0a" stroke-width="0.12" >40</text>
<line x1="57.80" y1="441.86" x2="62.30" y2="441.86" stroke="#9a9a9a" stroke-width="1.1"/>
<text x="57.30" y="445.26" font-size="9.6" text-anchor="end" font-weight="normal" fill="#0a0a0a" stroke="#0a0a0a" stroke-width="0.12" >60</text>
<line x1="57.80" y1="417.08" x2="62.30" y2="417.08" stroke="#9a9a9a" stroke-width="1.1"/>
<text x="57.30" y="420.48" font-size="9.6" text-anchor="end" font-weight="normal" fill="#0a0a0a" stroke="#0a0a0a" stroke-width="0.12" >80</text>
<line x1="57.80" y1="392.30" x2="62.30" y2="392.30" stroke="#9a9a9a" stroke-width="1.1"/>
<text x="57.30" y="395.70" font-size="9.6" text-anchor="end" font-weight="normal" fill="#0a0a0a" stroke="#0a0a0a" stroke-width="0.12" >100</text>
<text x="12.20" y="392.20" font-size="14.5" text-anchor="start" font-weight="bold" fill="#0a0a0a" stroke="#0a0a0a" stroke-width="0.3" >E</text>
<text x="67.90" y="403.00" font-size="9" text-anchor="start" font-weight="normal" fill="#0a0a0a" stroke="#0a0a0a" stroke-width="0.12" >r = 0.7642</text>
<text x="67.90" y="413.60" font-size="9" text-anchor="start" font-weight="normal" fill="#0a0a0a" stroke="#0a0a0a" stroke-width="0.12" ><tspan font-style="italic">p</tspan> &lt; 0.0001</text>
<text x="140.30" y="407.10" font-size="12.5" text-anchor="start" font-weight="normal" fill="#0a0a0a" stroke="#0a0a0a" stroke-width="0.3" >t0</text>
<text transform="translate(38.70,454.25) rotate(-90)" x="0" y="0" font-size="9.8" text-anchor="middle" font-weight="bold" fill="#0a0a0a" stroke="#0a0a0a" stroke-width="0.4">Neutralizing activity (%)</text>
<circle cx="102.00" cy="495.60" r="2.25" fill="#6a4820" stroke="#2a200a" stroke-width="1.25"/>
<circle cx="103.10" cy="502.20" r="2.25" fill="#7a3418" stroke="#4a1a0c" stroke-width="1.25"/>
<circle cx="105.50" cy="509.20" r="2.25" fill="#6a4820" stroke="#2a200a" stroke-width="1.25"/>
<circle cx="110.60" cy="496.40" r="2.25" fill="#6a4820" stroke="#2a200a" stroke-width="1.25"/>
<circle cx="116.40" cy="498.75" r="2.25" fill="#7a3418" stroke="#4a1a0c" stroke-width="1.25"/>
<circle cx="121.90" cy="480.00" r="2.25" fill="#6a4820" stroke="#2a200a" stroke-width="1.25"/>
<circle cx="126.60" cy="487.30" r="2.25" fill="#7a3418" stroke="#4a1a0c" stroke-width="1.25"/>
<circle cx="134.10" cy="502.50" r="2.25" fill="#6a4820" stroke="#2a200a" stroke-width="1.25"/>
<circle cx="137.20" cy="480.30" r="2.25" fill="#6a4820" stroke="#2a200a" stroke-width="1.25"/>
<circle cx="149.40" cy="480.30" r="2.25" fill="#7a3418" stroke="#4a1a0c" stroke-width="1.25"/>
<circle cx="146.90" cy="489.70" r="2.25" fill="#6a4820" stroke="#2a200a" stroke-width="1.25"/>
<circle cx="153.10" cy="492.00" r="2.25" fill="#7a3418" stroke="#4a1a0c" stroke-width="1.25"/>
<circle cx="150.00" cy="496.70" r="2.25" fill="#6a4820" stroke="#2a200a" stroke-width="1.25"/>
<circle cx="165.80" cy="461.30" r="2.25" fill="#6a4820" stroke="#2a200a" stroke-width="1.25"/>
<circle cx="163.10" cy="466.00" r="2.25" fill="#7a3418" stroke="#4a1a0c" stroke-width="1.25"/>
<circle cx="164.80" cy="472.00" r="2.25" fill="#6a4820" stroke="#2a200a" stroke-width="1.25"/>
<circle cx="169.80" cy="479.50" r="2.25" fill="#7a3418" stroke="#4a1a0c" stroke-width="1.25"/>
<circle cx="173.50" cy="473.20" r="2.25" fill="#6a4820" stroke="#2a200a" stroke-width="1.25"/>
<circle cx="170.50" cy="458.50" r="2.25" fill="#6a4820" stroke="#2a200a" stroke-width="1.25"/>
<circle cx="174.00" cy="455.80" r="2.25" fill="#7a3418" stroke="#4a1a0c" stroke-width="1.25"/>
<circle cx="171.50" cy="492.70" r="2.25" fill="#6a4820" stroke="#2a200a" stroke-width="1.25"/>
<circle cx="182.60" cy="421.40" r="2.25" fill="#7a3418" stroke="#4a1a0c" stroke-width="1.25"/>
<circle cx="181.40" cy="429.60" r="2.25" fill="#6a4820" stroke="#2a200a" stroke-width="1.25"/>
<circle cx="191.00" cy="435.20" r="2.25" fill="#6a4820" stroke="#2a200a" stroke-width="1.25"/>
<circle cx="186.20" cy="485.00" r="2.25" fill="#7a3418" stroke="#4a1a0c" stroke-width="1.25"/>
<rect x="306.60" y="393.30" width="184.70" height="122.90" fill="none" stroke="#9a9a9a" stroke-width="1.3"/>
<line x1="306.60" y1="516.20" x2="306.60" y2="520.20" stroke="#9a9a9a" stroke-width="1.1"/>
<line x1="334.40" y1="516.20" x2="334.40" y2="518.80" stroke="#9a9a9a" stroke-width="1.0"/>
<line x1="350.66" y1="516.20" x2="350.66" y2="518.80" stroke="#9a9a9a" stroke-width="1.0"/>
<line x1="362.20" y1="516.20" x2="362.20" y2="518.80" stroke="#9a9a9a" stroke-width="1.0"/>
<line x1="371.15" y1="516.20" x2="371.15" y2="518.80" stroke="#9a9a9a" stroke-width="1.0"/>
<line x1="378.46" y1="516.20" x2="378.46" y2="518.80" stroke="#9a9a9a" stroke-width="1.0"/>
<line x1="384.64" y1="516.20" x2="384.64" y2="518.80" stroke="#9a9a9a" stroke-width="1.0"/>
<line x1="390.00" y1="516.20" x2="390.00" y2="518.80" stroke="#9a9a9a" stroke-width="1.0"/>
<line x1="394.72" y1="516.20" x2="394.72" y2="518.80" stroke="#9a9a9a" stroke-width="1.0"/>
<line x1="398.95" y1="516.20" x2="398.95" y2="520.20" stroke="#9a9a9a" stroke-width="1.1"/>
<line x1="426.75" y1="516.20" x2="426.75" y2="518.80" stroke="#9a9a9a" stroke-width="1.0"/>
<line x1="443.01" y1="516.20" x2="443.01" y2="518.80" stroke="#9a9a9a" stroke-width="1.0"/>
<line x1="454.55" y1="516.20" x2="454.55" y2="518.80" stroke="#9a9a9a" stroke-width="1.0"/>
<line x1="463.50" y1="516.20" x2="463.50" y2="518.80" stroke="#9a9a9a" stroke-width="1.0"/>
<line x1="470.81" y1="516.20" x2="470.81" y2="518.80" stroke="#9a9a9a" stroke-width="1.0"/>
<line x1="476.99" y1="516.20" x2="476.99" y2="518.80" stroke="#9a9a9a" stroke-width="1.0"/>
<line x1="482.35" y1="516.20" x2="482.35" y2="518.80" stroke="#9a9a9a" stroke-width="1.0"/>
<line x1="487.07" y1="516.20" x2="487.07" y2="518.80" stroke="#9a9a9a" stroke-width="1.0"/>
<line x1="491.30" y1="516.20" x2="491.30" y2="520.20" stroke="#9a9a9a" stroke-width="1.1"/>
<text x="306.60" y="529.60" font-size="9.6" text-anchor="middle" font-weight="normal" fill="#0a0a0a" stroke="#0a0a0a" stroke-width="0.12" >100</text>
<text x="398.95" y="529.60" font-size="9.6" text-anchor="middle" font-weight="normal" fill="#0a0a0a" stroke="#0a0a0a" stroke-width="0.12" >1 000</text>
<text x="491.30" y="529.60" font-size="9.6" text-anchor="middle" font-weight="normal" fill="#0a0a0a" stroke="#0a0a0a" stroke-width="0.12" >10,000</text>
<text x="398.95" y="544.40" font-size="9.8" text-anchor="middle" font-weight="bold" fill="#0a0a0a" stroke="#0a0a0a" stroke-width="0.4" >Anti-RBD IgG</text>
<line x1="302.10" y1="516.20" x2="306.60" y2="516.20" stroke="#9a9a9a" stroke-width="1.1"/>
<text x="301.60" y="519.60" font-size="9.6" text-anchor="end" font-weight="normal" fill="#0a0a0a" stroke="#0a0a0a" stroke-width="0.12" >0</text>
<line x1="302.10" y1="491.62" x2="306.60" y2="491.62" stroke="#9a9a9a" stroke-width="1.1"/>
<text x="301.60" y="495.02" font-size="9.6" text-anchor="end" font-weight="normal" fill="#0a0a0a" stroke="#0a0a0a" stroke-width="0.12" >20</text>
<line x1="302.10" y1="467.04" x2="306.60" y2="467.04" stroke="#9a9a9a" stroke-width="1.1"/>
<text x="301.60" y="470.44" font-size="9.6" text-anchor="end" font-weight="normal" fill="#0a0a0a" stroke="#0a0a0a" stroke-width="0.12" >40</text>
<line x1="302.10" y1="442.46" x2="306.60" y2="442.46" stroke="#9a9a9a" stroke-width="1.1"/>
<text x="301.60" y="445.86" font-size="9.6" text-anchor="end" font-weight="normal" fill="#0a0a0a" stroke="#0a0a0a" stroke-width="0.12" >60</text>
<line x1="302.10" y1="417.88" x2="306.60" y2="417.88" stroke="#9a9a9a" stroke-width="1.1"/>
<text x="301.60" y="421.28" font-size="9.6" text-anchor="end" font-weight="normal" fill="#0a0a0a" stroke="#0a0a0a" stroke-width="0.12" >80</text>
<line x1="302.10" y1="393.30" x2="306.60" y2="393.30" stroke="#9a9a9a" stroke-width="1.1"/>
<text x="301.60" y="396.70" font-size="9.6" text-anchor="end" font-weight="normal" fill="#0a0a0a" stroke="#0a0a0a" stroke-width="0.12" >100</text>
<text x="0.00" y="0.00" font-size="14.5" text-anchor="start" font-weight="bold" fill="#0a0a0a" stroke="#0a0a0a" stroke-width="0.3" ></text>
<text x="311.30" y="403.40" font-size="9" text-anchor="start" font-weight="normal" fill="#0a0a0a" stroke="#0a0a0a" stroke-width="0.12" >r = 0.8277</text>
<text x="311.30" y="414.00" font-size="9" text-anchor="start" font-weight="normal" fill="#0a0a0a" stroke="#0a0a0a" stroke-width="0.12" ><tspan font-style="italic">p</tspan> &lt; 0.0001</text>
<text x="399.20" y="406.80" font-size="12.5" text-anchor="start" font-weight="normal" fill="#0a0a0a" stroke="#0a0a0a" stroke-width="0.3" >t1</text>
<text transform="translate(282.10,454.75) rotate(-90)" x="0" y="0" font-size="9.8" text-anchor="middle" font-weight="bold" fill="#0a0a0a" stroke="#0a0a0a" stroke-width="0.4">Neutralizing activity (%)</text>
<circle cx="473.30" cy="394.10" r="2.25" fill="#6a4820" stroke="#2a200a" stroke-width="1.25"/>
<circle cx="459.70" cy="401.80" r="2.25" fill="#7a3418" stroke="#4a1a0c" stroke-width="1.25"/>
<circle cx="457.60" cy="407.40" r="2.25" fill="#6a4820" stroke="#2a200a" stroke-width="1.25"/>
<circle cx="464.60" cy="406.00" r="2.25" fill="#6a4820" stroke="#2a200a" stroke-width="1.25"/>
<circle cx="460.80" cy="410.20" r="2.25" fill="#7a3418" stroke="#4a1a0c" stroke-width="1.25"/>
<circle cx="460.10" cy="412.10" r="2.25" fill="#6a4820" stroke="#2a200a" stroke-width="1.25"/>
<circle cx="468.10" cy="414.20" r="2.25" fill="#7a3418" stroke="#4a1a0c" stroke-width="1.25"/>
<circle cx="488.90" cy="407.80" r="2.25" fill="#6a4820" stroke="#2a200a" stroke-width="1.25"/>
<circle cx="447.70" cy="425.00" r="2.25" fill="#6a4820" stroke="#2a200a" stroke-width="1.25"/>
<circle cx="447.70" cy="431.80" r="2.25" fill="#7a3418" stroke="#4a1a0c" stroke-width="1.25"/>
<circle cx="449.10" cy="438.50" r="2.25" fill="#6a4820" stroke="#2a200a" stroke-width="1.25"/>
<circle cx="457.60" cy="440.00" r="2.25" fill="#7a3418" stroke="#4a1a0c" stroke-width="1.25"/>
<circle cx="429.10" cy="421.00" r="2.25" fill="#6a4820" stroke="#2a200a" stroke-width="1.25"/>
<circle cx="404.50" cy="435.50" r="2.25" fill="#6a4820" stroke="#2a200a" stroke-width="1.25"/>
<circle cx="432.30" cy="439.10" r="2.25" fill="#7a3418" stroke="#4a1a0c" stroke-width="1.25"/>
<circle cx="428.30" cy="446.50" r="2.25" fill="#6a4820" stroke="#2a200a" stroke-width="1.25"/>
<circle cx="408.40" cy="448.60" r="2.25" fill="#7a3418" stroke="#4a1a0c" stroke-width="1.25"/>
<circle cx="404.90" cy="451.20" r="2.25" fill="#6a4820" stroke="#2a200a" stroke-width="1.25"/>
<circle cx="418.50" cy="456.30" r="2.25" fill="#6a4820" stroke="#2a200a" stroke-width="1.25"/>
<circle cx="439.50" cy="455.90" r="2.25" fill="#7a3418" stroke="#4a1a0c" stroke-width="1.25"/>
<circle cx="427.10" cy="459.70" r="2.25" fill="#6a4820" stroke="#2a200a" stroke-width="1.25"/>
<circle cx="424.90" cy="461.70" r="2.25" fill="#7a3418" stroke="#4a1a0c" stroke-width="1.25"/>
<circle cx="402.00" cy="469.40" r="2.25" fill="#6a4820" stroke="#2a200a" stroke-width="1.25"/>
<circle cx="415.40" cy="479.80" r="2.25" fill="#6a4820" stroke="#2a200a" stroke-width="1.25"/>
<circle cx="419.20" cy="483.90" r="2.25" fill="#7a3418" stroke="#4a1a0c" stroke-width="1.25"/>
<circle cx="401.60" cy="484.20" r="2.25" fill="#6a4820" stroke="#2a200a" stroke-width="1.25"/>
<circle cx="53" cy="64.7" r="1.6" fill="#f4a2ec"/>
<circle cx="53" cy="92.3" r="1.6" fill="#f4a2ec"/>
<circle cx="53" cy="108.0" r="1.6" fill="#f4a2ec"/>
<circle cx="53" cy="123.5" r="1.6" fill="#f4a2ec"/>
<circle cx="53" cy="138.5" r="1.6" fill="#f4a2ec"/>
<circle cx="53" cy="154.7" r="1.6" fill="#f4a2ec"/>
<circle cx="53" cy="171.0" r="1.6" fill="#f4a2ec"/>
<circle cx="53" cy="186.5" r="1.6" fill="#f4a2ec"/>
<circle cx="53" cy="203.0" r="1.6" fill="#f4a2ec"/>
<circle cx="53" cy="217.0" r="1.6" fill="#f4a2ec"/>
<circle cx="87" cy="149.0" r="1.6" fill="#f4a2ec"/>
<circle cx="87" cy="165.0" r="1.6" fill="#f4a2ec"/>
<circle cx="87" cy="180.0" r="1.6" fill="#f4a2ec"/>
<circle cx="87" cy="189.0" r="1.6" fill="#f4a2ec"/>
<circle cx="87" cy="199.0" r="1.6" fill="#f4a2ec"/>
<circle cx="87" cy="210.7" r="1.6" fill="#f4a2ec"/>
<circle cx="87" cy="244.0" r="1.6" fill="#f4a2ec"/>
<circle cx="87" cy="255.4" r="1.6" fill="#f4a2ec"/>
<circle cx="87" cy="274.5" r="1.6" fill="#f4a2ec"/>
<circle cx="2" cy="155.0" r="1.6" fill="#f4a2ec"/>
<circle cx="2" cy="172.0" r="1.6" fill="#f4a2ec"/>
<circle cx="2" cy="187.8" r="1.6" fill="#f4a2ec"/>
<circle cx="2" cy="203.0" r="1.6" fill="#f4a2ec"/>
<circle cx="2" cy="219.6" r="1.6" fill="#f4a2ec"/>
<circle cx="2" cy="235.0" r="1.6" fill="#f4a2ec"/>
<circle cx="2" cy="250.4" r="1.6" fill="#f4a2ec"/>
<circle cx="2" cy="268.2" r="1.6" fill="#f4a2ec"/>
<circle cx="140" cy="115.0" r="1.6" fill="#f4a2ec"/>
<circle cx="140" cy="148.3" r="1.6" fill="#f4a2ec"/>
<circle cx="140" cy="162.3" r="1.6" fill="#f4a2ec"/>
<circle cx="140" cy="177.6" r="1.6" fill="#f4a2ec"/>
<circle cx="140" cy="192.0" r="1.6" fill="#f4a2ec"/>
<circle cx="140" cy="209.4" r="1.6" fill="#f4a2ec"/>
<circle cx="140" cy="259.8" r="1.6" fill="#f4a2ec"/>
<circle cx="160" cy="126.0" r="1.6" fill="#f4a2ec"/>
<circle cx="160" cy="137.0" r="1.6" fill="#f4a2ec"/>
<circle cx="160" cy="155.5" r="1.6" fill="#f4a2ec"/>
<circle cx="160" cy="170.7" r="1.6" fill="#f4a2ec"/>
<circle cx="160" cy="221.0" r="1.6" fill="#f4a2ec"/>
<circle cx="160" cy="234.4" r="1.6" fill="#f4a2ec"/>
<circle cx="160" cy="249.6" r="1.6" fill="#f4a2ec"/>
<circle cx="160" cy="266.7" r="1.6" fill="#f4a2ec"/>
<circle cx="212" cy="61.6" r="1.6" fill="#f4a2ec"/>
<circle cx="212" cy="73.3" r="1.6" fill="#f4a2ec"/>
<circle cx="212" cy="91.4" r="1.6" fill="#f4a2ec"/>
<circle cx="212" cy="108.5" r="1.6" fill="#f4a2ec"/>
<circle cx="212" cy="122.5" r="1.6" fill="#f4a2ec"/>
<circle cx="212" cy="139.4" r="1.6" fill="#f4a2ec"/>
<circle cx="212" cy="157.3" r="1.6" fill="#f4a2ec"/>
<circle cx="212" cy="171.2" r="1.6" fill="#f4a2ec"/>
<circle cx="212" cy="186.5" r="1.6" fill="#f4a2ec"/>
<circle cx="212" cy="203.8" r="1.6" fill="#f4a2ec"/>
<circle cx="212" cy="221.0" r="1.6" fill="#f4a2ec"/>
<circle cx="212" cy="235.6" r="1.6" fill="#f4a2ec"/>
<circle cx="212" cy="252.9" r="1.6" fill="#f4a2ec"/>
<circle cx="255" cy="164.0" r="1.6" fill="#f4a2ec"/>
<circle cx="255" cy="179.0" r="1.6" fill="#f4a2ec"/>
<circle cx="255" cy="195.0" r="1.6" fill="#f4a2ec"/>
<circle cx="255" cy="211.0" r="1.6" fill="#f4a2ec"/>
<circle cx="255" cy="227.0" r="1.6" fill="#f4a2ec"/>
<circle cx="255" cy="243.0" r="1.6" fill="#f4a2ec"/>
<circle cx="255" cy="259.0" r="1.6" fill="#f4a2ec"/>
<circle cx="255" cy="275.0" r="1.6" fill="#f4a2ec"/>
</svg></body></html>
